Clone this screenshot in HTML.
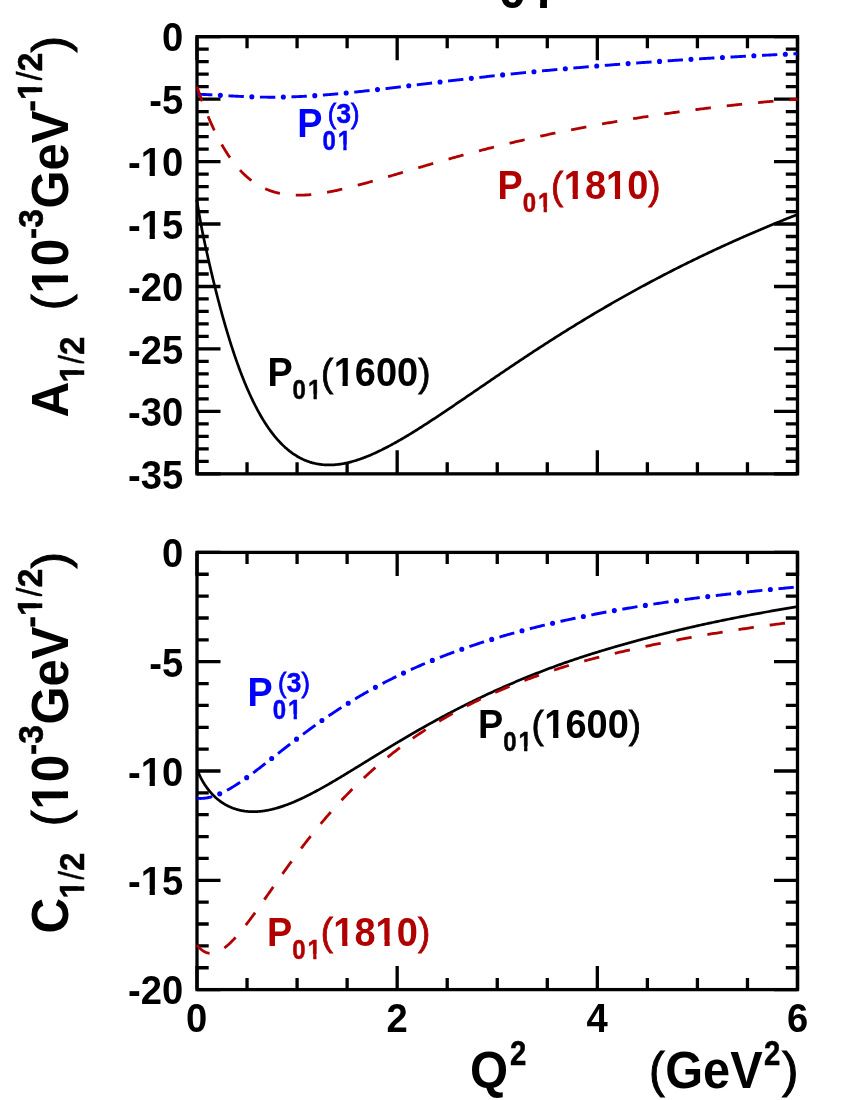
<!DOCTYPE html>
<html><head><meta charset="utf-8"><style>
html,body{margin:0;padding:0;background:#fff;}
svg{display:block;will-change:transform;font-family:"Liberation Sans",sans-serif;font-weight:bold;font-kerning:none;}
</style></head><body>
<svg width="850" height="1100" viewBox="0 0 850 1100">
<rect width="850" height="1100" fill="#fff"/>
<g transform="translate(498.60,8.30)" fill="#000" stroke="#000" font-size="50"><text x="0.00" stroke-width="0" letter-spacing="2.0">01</text><rect x="31.46" y="-7.10" width="10.02" height="9.40" fill="#fff" stroke="none"/><rect x="48.34" y="-7.10" width="9.39" height="9.40" fill="#fff" stroke="none"/></g>
<rect x="197.0" y="36.65" width="600.5" height="437.20000000000005" fill="none" stroke="#000" stroke-width="3.3"/>
<path d="M197.00,36.65 v23.5 M197.00,473.85 v-23.5 M247.04,36.65 v11.7 M247.04,473.85 v-11.7 M297.08,36.65 v11.7 M297.08,473.85 v-11.7 M347.12,36.65 v11.7 M347.12,473.85 v-11.7 M397.17,36.65 v23.5 M397.17,473.85 v-23.5 M447.21,36.65 v11.7 M447.21,473.85 v-11.7 M497.25,36.65 v11.7 M497.25,473.85 v-11.7 M547.29,36.65 v11.7 M547.29,473.85 v-11.7 M597.33,36.65 v23.5 M597.33,473.85 v-23.5 M647.38,36.65 v11.7 M647.38,473.85 v-11.7 M697.42,36.65 v11.7 M697.42,473.85 v-11.7 M747.46,36.65 v11.7 M747.46,473.85 v-11.7 M797.50,36.65 v23.5 M797.50,473.85 v-23.5 M197.0,36.65 h23.5 M797.5,36.65 h-23.5 M197.0,49.14 h11.7 M797.5,49.14 h-11.7 M197.0,61.63 h11.7 M797.5,61.63 h-11.7 M197.0,74.12 h11.7 M797.5,74.12 h-11.7 M197.0,86.62 h11.7 M797.5,86.62 h-11.7 M197.0,99.11 h23.5 M797.5,99.11 h-23.5 M197.0,111.60 h11.7 M797.5,111.60 h-11.7 M197.0,124.09 h11.7 M797.5,124.09 h-11.7 M197.0,136.58 h11.7 M797.5,136.58 h-11.7 M197.0,149.07 h11.7 M797.5,149.07 h-11.7 M197.0,161.56 h23.5 M797.5,161.56 h-23.5 M197.0,174.06 h11.7 M797.5,174.06 h-11.7 M197.0,186.55 h11.7 M797.5,186.55 h-11.7 M197.0,199.04 h11.7 M797.5,199.04 h-11.7 M197.0,211.53 h11.7 M797.5,211.53 h-11.7 M197.0,224.02 h23.5 M797.5,224.02 h-23.5 M197.0,236.51 h11.7 M797.5,236.51 h-11.7 M197.0,249.00 h11.7 M797.5,249.00 h-11.7 M197.0,261.50 h11.7 M797.5,261.50 h-11.7 M197.0,273.99 h11.7 M797.5,273.99 h-11.7 M197.0,286.48 h23.5 M797.5,286.48 h-23.5 M197.0,298.97 h11.7 M797.5,298.97 h-11.7 M197.0,311.46 h11.7 M797.5,311.46 h-11.7 M197.0,323.95 h11.7 M797.5,323.95 h-11.7 M197.0,336.44 h11.7 M797.5,336.44 h-11.7 M197.0,348.94 h23.5 M797.5,348.94 h-23.5 M197.0,361.43 h11.7 M797.5,361.43 h-11.7 M197.0,373.92 h11.7 M797.5,373.92 h-11.7 M197.0,386.41 h11.7 M797.5,386.41 h-11.7 M197.0,398.90 h11.7 M797.5,398.90 h-11.7 M197.0,411.39 h23.5 M797.5,411.39 h-23.5 M197.0,423.88 h11.7 M797.5,423.88 h-11.7 M197.0,436.38 h11.7 M797.5,436.38 h-11.7 M197.0,448.87 h11.7 M797.5,448.87 h-11.7 M197.0,461.36 h11.7 M797.5,461.36 h-11.7 M197.0,473.85 h23.5 M797.5,473.85 h-23.5" stroke="#000" stroke-width="3.3" fill="none"/>
<g transform="translate(183.20,51.45) scale(0.932,1)" fill="#000" stroke="#000" font-size="41"><text x="-22.80" stroke-width="0">0</text></g>
<g transform="translate(183.20,113.91) scale(0.932,1)" fill="#000" stroke="#000" font-size="41"><text x="-36.46" stroke-width="0">-5</text></g>
<g transform="translate(183.20,176.36) scale(0.932,1)" fill="#000" stroke="#000" font-size="41"><text x="-59.26" stroke-width="0">-10</text><rect x="-44.52" y="-6.18" width="8.49" height="8.48" fill="#fff" stroke="none"/><rect x="-30.41" y="-6.18" width="7.97" height="8.48" fill="#fff" stroke="none"/></g>
<g transform="translate(183.20,238.82) scale(0.932,1)" fill="#000" stroke="#000" font-size="41"><text x="-59.26" stroke-width="0">-15</text><rect x="-44.52" y="-6.18" width="8.49" height="8.48" fill="#fff" stroke="none"/><rect x="-30.41" y="-6.18" width="7.97" height="8.48" fill="#fff" stroke="none"/></g>
<g transform="translate(183.20,301.28) scale(0.932,1)" fill="#000" stroke="#000" font-size="41"><text x="-59.26" stroke-width="0">-20</text></g>
<g transform="translate(183.20,363.74) scale(0.932,1)" fill="#000" stroke="#000" font-size="41"><text x="-59.26" stroke-width="0">-25</text></g>
<g transform="translate(183.20,426.19) scale(0.932,1)" fill="#000" stroke="#000" font-size="41"><text x="-59.26" stroke-width="0">-30</text></g>
<g transform="translate(183.20,488.65) scale(0.932,1)" fill="#000" stroke="#000" font-size="41"><text x="-59.26" stroke-width="0">-35</text></g>
<rect x="197.0" y="552.4" width="600.5" height="437.20000000000005" fill="none" stroke="#000" stroke-width="3.3"/>
<path d="M197.00,552.4 v23.5 M197.00,989.6 v-23.5 M247.04,552.4 v11.7 M247.04,989.6 v-11.7 M297.08,552.4 v11.7 M297.08,989.6 v-11.7 M347.12,552.4 v11.7 M347.12,989.6 v-11.7 M397.17,552.4 v23.5 M397.17,989.6 v-23.5 M447.21,552.4 v11.7 M447.21,989.6 v-11.7 M497.25,552.4 v11.7 M497.25,989.6 v-11.7 M547.29,552.4 v11.7 M547.29,989.6 v-11.7 M597.33,552.4 v23.5 M597.33,989.6 v-23.5 M647.38,552.4 v11.7 M647.38,989.6 v-11.7 M697.42,552.4 v11.7 M697.42,989.6 v-11.7 M747.46,552.4 v11.7 M747.46,989.6 v-11.7 M797.50,552.4 v23.5 M797.50,989.6 v-23.5 M197.0,552.40 h23.5 M797.5,552.40 h-23.5 M197.0,574.26 h11.7 M797.5,574.26 h-11.7 M197.0,596.12 h11.7 M797.5,596.12 h-11.7 M197.0,617.98 h11.7 M797.5,617.98 h-11.7 M197.0,639.84 h11.7 M797.5,639.84 h-11.7 M197.0,661.70 h23.5 M797.5,661.70 h-23.5 M197.0,683.56 h11.7 M797.5,683.56 h-11.7 M197.0,705.42 h11.7 M797.5,705.42 h-11.7 M197.0,727.28 h11.7 M797.5,727.28 h-11.7 M197.0,749.14 h11.7 M797.5,749.14 h-11.7 M197.0,771.00 h23.5 M797.5,771.00 h-23.5 M197.0,792.86 h11.7 M797.5,792.86 h-11.7 M197.0,814.72 h11.7 M797.5,814.72 h-11.7 M197.0,836.58 h11.7 M797.5,836.58 h-11.7 M197.0,858.44 h11.7 M797.5,858.44 h-11.7 M197.0,880.30 h23.5 M797.5,880.30 h-23.5 M197.0,902.16 h11.7 M797.5,902.16 h-11.7 M197.0,924.02 h11.7 M797.5,924.02 h-11.7 M197.0,945.88 h11.7 M797.5,945.88 h-11.7 M197.0,967.74 h11.7 M797.5,967.74 h-11.7 M197.0,989.60 h23.5 M797.5,989.60 h-23.5" stroke="#000" stroke-width="3.3" fill="none"/>
<g transform="translate(183.20,567.20) scale(0.932,1)" fill="#000" stroke="#000" font-size="41"><text x="-22.80" stroke-width="0">0</text></g>
<g transform="translate(183.20,676.50) scale(0.932,1)" fill="#000" stroke="#000" font-size="41"><text x="-36.46" stroke-width="0">-5</text></g>
<g transform="translate(183.20,785.80) scale(0.932,1)" fill="#000" stroke="#000" font-size="41"><text x="-59.26" stroke-width="0">-10</text><rect x="-44.52" y="-6.18" width="8.49" height="8.48" fill="#fff" stroke="none"/><rect x="-30.41" y="-6.18" width="7.97" height="8.48" fill="#fff" stroke="none"/></g>
<g transform="translate(183.20,895.10) scale(0.932,1)" fill="#000" stroke="#000" font-size="41"><text x="-59.26" stroke-width="0">-15</text><rect x="-44.52" y="-6.18" width="8.49" height="8.48" fill="#fff" stroke="none"/><rect x="-30.41" y="-6.18" width="7.97" height="8.48" fill="#fff" stroke="none"/></g>
<g transform="translate(183.20,1004.40) scale(0.932,1)" fill="#000" stroke="#000" font-size="41"><text x="-59.26" stroke-width="0">-20</text></g>
<g transform="translate(196.70,1031.80) scale(0.932,1)" fill="#000" stroke="#000" font-size="41"><text x="-11.40" stroke-width="0">0</text></g><g transform="translate(397.00,1031.80) scale(0.932,1)" fill="#000" stroke="#000" font-size="41"><text x="-11.40" stroke-width="0">2</text></g><g transform="translate(597.00,1031.80) scale(0.932,1)" fill="#000" stroke="#000" font-size="41"><text x="-11.40" stroke-width="0">4</text></g><g transform="translate(797.60,1031.80) scale(0.932,1)" fill="#000" stroke="#000" font-size="41"><text x="-11.40" stroke-width="0">6</text></g>
<path d="M196.70,199.45 L196.74,199.66 L196.80,200.04 L196.88,200.54 L196.98,201.13 L197.10,201.79 L197.22,202.52 L197.35,203.32 L197.50,204.17 L197.65,205.08 L197.81,206.03 L197.98,207.04 L198.16,208.08 L198.34,209.17 L198.53,210.30 L198.73,211.47 L198.94,212.68 L199.15,213.91 L199.37,215.19 L199.59,216.49 L199.83,217.83 L200.07,219.19 L200.31,220.58 L200.57,222.00 L200.83,223.45 L201.10,224.92 L201.37,226.42 L201.66,227.94 L201.95,229.48 L202.26,231.05 L202.57,232.63 L202.89,234.24 L203.22,235.86 L203.57,237.50 L203.92,239.16 L204.28,240.84 L204.65,242.54 L205.02,244.25 L205.40,245.97 L205.78,247.71 L206.16,249.47 L206.55,251.24 L206.95,253.02 L207.35,254.81 L207.76,256.61 L208.16,258.43 L208.58,260.25 L209.00,262.09 L209.42,263.93 L209.85,265.79 L210.28,267.65 L210.72,269.52 L211.16,271.40 L211.60,273.28 L212.05,275.17 L212.51,277.07 L212.97,278.97 L213.43,280.87 L213.89,282.78 L214.36,284.70 L214.84,286.62 L215.31,288.54 L215.80,290.46 L216.28,292.39 L216.77,294.31 L217.27,296.24 L217.76,298.17 L218.26,300.10 L218.77,302.03 L219.28,303.96 L219.79,305.89 L220.31,307.82 L220.82,309.74 L221.35,311.66 L221.87,313.59 L222.41,315.51 L222.94,317.42 L223.48,319.33 L224.02,321.24 L224.56,323.15 L225.11,325.05 L225.66,326.94 L226.22,328.83 L226.77,330.72 L227.33,332.59 L227.90,334.47 L228.47,336.33 L229.04,338.19 L229.61,340.04 L230.19,341.89 L230.77,343.73 L231.36,345.55 L231.95,347.37 L232.54,349.19 L233.13,350.99 L233.73,352.79 L234.33,354.57 L234.93,356.35 L235.54,358.11 L236.15,359.87 L236.76,361.61 L237.38,363.35 L238.00,365.07 L238.62,366.78 L239.24,368.48 L239.87,370.17 L240.50,371.85 L241.14,373.52 L241.78,375.17 L242.42,376.82 L243.06,378.45 L243.71,380.07 L244.36,381.67 L245.01,383.26 L245.67,384.84 L246.33,386.41 L246.99,387.96 L247.66,389.50 L248.33,391.03 L249.00,392.54 L249.67,394.04 L250.35,395.52 L251.03,396.99 L251.71,398.44 L252.40,399.88 L253.09,401.31 L253.78,402.72 L254.48,404.11 L255.18,405.49 L255.88,406.86 L256.58,408.21 L257.29,409.54 L258.00,410.86 L258.71,412.16 L259.42,413.45 L260.14,414.72 L260.86,415.98 L261.58,417.22 L262.31,418.44 L263.03,419.65 L263.77,420.84 L264.50,422.01 L265.24,423.17 L265.98,424.32 L266.72,425.45 L267.47,426.56 L268.22,427.65 L268.97,428.73 L269.73,429.80 L270.49,430.84 L271.25,431.87 L272.01,432.89 L272.78,433.89 L273.55,434.87 L274.32,435.83 L275.10,436.78 L275.88,437.71 L276.66,438.63 L277.45,439.53 L278.23,440.41 L279.02,441.28 L279.81,442.13 L280.61,442.97 L281.41,443.78 L282.21,444.58 L283.01,445.37 L283.82,446.14 L284.62,446.89 L285.43,447.63 L286.25,448.35 L287.06,449.05 L287.88,449.74 L288.70,450.41 L289.52,451.07 L290.35,451.70 L291.18,452.33 L292.01,452.93 L292.84,453.53 L293.67,454.10 L294.51,454.66 L295.35,455.20 L296.19,455.73 L297.03,456.24 L297.87,456.74 L298.72,457.22 L299.57,457.68 L300.42,458.13 L301.28,458.57 L302.14,458.98 L303.00,459.39 L303.86,459.78 L304.73,460.15 L305.60,460.51 L306.47,460.85 L307.34,461.18 L308.22,461.50 L309.10,461.80 L309.98,462.09 L310.87,462.36 L311.75,462.62 L312.64,462.86 L313.53,463.09 L314.42,463.31 L315.31,463.51 L316.21,463.70 L317.11,463.87 L318.00,464.03 L318.90,464.18 L319.80,464.32 L320.70,464.44 L321.61,464.55 L322.51,464.65 L323.41,464.73 L324.32,464.80 L325.22,464.86 L326.13,464.90 L327.03,464.94 L327.94,464.96 L328.84,464.97 L329.75,464.97 L330.66,464.95 L331.57,464.92 L332.49,464.89 L333.40,464.84 L334.32,464.78 L335.24,464.70 L336.17,464.62 L337.09,464.52 L338.02,464.42 L338.95,464.30 L339.88,464.17 L340.81,464.04 L341.75,463.89 L342.68,463.73 L343.62,463.56 L344.56,463.38 L345.50,463.19 L346.45,462.98 L347.40,462.77 L348.35,462.55 L349.30,462.32 L350.25,462.08 L351.20,461.83 L352.16,461.57 L353.12,461.30 L354.08,461.02 L355.04,460.74 L356.01,460.44 L356.97,460.13 L357.94,459.82 L358.91,459.49 L359.89,459.16 L360.86,458.82 L361.84,458.47 L362.81,458.11 L363.80,457.75 L364.78,457.37 L365.76,456.99 L366.75,456.60 L367.73,456.20 L368.72,455.79 L369.72,455.38 L370.71,454.95 L371.71,454.52 L372.70,454.09 L373.70,453.64 L374.70,453.19 L375.71,452.73 L376.71,452.27 L377.72,451.79 L378.73,451.32 L379.74,450.83 L380.75,450.34 L381.76,449.84 L382.78,449.33 L383.80,448.82 L384.82,448.30 L385.84,447.78 L386.86,447.25 L387.89,446.71 L388.92,446.17 L389.94,445.62 L390.98,445.07 L392.01,444.51 L393.04,443.94 L394.08,443.37 L395.12,442.80 L396.16,442.21 L397.20,441.63 L398.24,441.03 L399.29,440.44 L400.34,439.83 L401.38,439.23 L402.43,438.61 L403.49,438.00 L404.54,437.37 L405.60,436.75 L406.66,436.12 L407.72,435.48 L408.78,434.84 L409.84,434.19 L410.91,433.54 L411.97,432.89 L413.04,432.23 L414.11,431.57 L415.18,430.90 L416.26,430.23 L417.33,429.55 L418.41,428.87 L419.49,428.19 L420.57,427.50 L421.65,426.81 L422.74,426.12 L423.82,425.42 L424.91,424.72 L426.00,424.01 L427.09,423.31 L428.19,422.60 L429.28,421.88 L430.38,421.17 L431.48,420.45 L432.58,419.72 L433.68,419.00 L434.78,418.27 L435.89,417.54 L436.99,416.81 L438.10,416.07 L439.21,415.33 L440.32,414.59 L441.44,413.85 L442.55,413.10 L443.67,412.35 L444.79,411.60 L445.91,410.85 L447.03,410.09 L448.15,409.34 L449.28,408.58 L450.41,407.82 L451.54,407.05 L452.67,406.29 L453.80,405.52 L454.93,404.75 L456.07,403.98 L457.20,403.21 L458.34,402.44 L459.48,401.66 L460.63,400.88 L461.77,400.11 L462.91,399.33 L464.06,398.54 L465.21,397.76 L466.36,396.98 L467.51,396.19 L468.67,395.40 L469.82,394.62 L470.98,393.83 L472.14,393.04 L473.30,392.24 L474.46,391.45 L475.62,390.66 L476.79,389.86 L477.95,389.06 L479.12,388.26 L480.29,387.46 L481.46,386.66 L482.64,385.86 L483.81,385.06 L484.99,384.26 L486.16,383.45 L487.34,382.65 L488.52,381.84 L489.71,381.03 L490.89,380.22 L492.08,379.42 L493.26,378.61 L494.45,377.80 L495.64,376.99 L496.84,376.17 L498.03,375.36 L499.23,374.55 L500.42,373.74 L501.62,372.92 L502.82,372.11 L504.02,371.30 L505.23,370.48 L506.43,369.67 L507.64,368.85 L508.85,368.04 L510.05,367.22 L511.27,366.41 L512.48,365.59 L513.69,364.78 L514.91,363.96 L516.13,363.15 L517.34,362.33 L518.56,361.52 L519.79,360.70 L521.01,359.89 L522.24,359.07 L523.46,358.26 L524.69,357.44 L525.92,356.63 L527.15,355.81 L528.38,355.00 L529.62,354.18 L530.85,353.37 L532.09,352.56 L533.33,351.74 L534.57,350.93 L535.81,350.12 L537.05,349.31 L538.30,348.50 L539.55,347.69 L540.79,346.88 L542.04,346.07 L543.29,345.26 L544.55,344.45 L545.80,343.64 L547.06,342.84 L548.31,342.03 L549.57,341.22 L550.83,340.42 L552.09,339.61 L553.36,338.81 L554.62,338.00 L555.89,337.20 L557.15,336.40 L558.42,335.60 L559.69,334.80 L560.96,334.00 L562.24,333.20 L563.51,332.40 L564.79,331.60 L566.07,330.80 L567.35,330.00 L568.63,329.21 L569.91,328.41 L571.19,327.62 L572.48,326.82 L573.76,326.03 L575.05,325.24 L576.34,324.45 L577.63,323.66 L578.93,322.87 L580.22,322.08 L581.51,321.29 L582.81,320.50 L584.11,319.72 L585.41,318.93 L586.71,318.15 L588.01,317.37 L589.32,316.58 L590.62,315.80 L591.93,315.02 L593.24,314.24 L594.55,313.46 L595.86,312.69 L597.17,311.91 L598.49,311.14 L599.80,310.36 L601.12,309.59 L602.44,308.82 L603.76,308.04 L605.08,307.27 L606.40,306.51 L607.73,305.74 L609.05,304.97 L610.38,304.21 L611.71,303.44 L613.04,302.68 L614.37,301.92 L615.70,301.15 L617.04,300.39 L618.37,299.64 L619.71,298.88 L621.05,298.12 L622.39,297.37 L623.73,296.61 L625.07,295.86 L626.41,295.11 L627.76,294.36 L629.11,293.61 L630.45,292.86 L631.80,292.11 L633.15,291.37 L634.51,290.62 L635.86,289.88 L637.22,289.14 L638.57,288.40 L639.93,287.66 L641.29,286.92 L642.65,286.18 L644.01,285.44 L645.38,284.71 L646.74,283.98 L648.11,283.24 L649.48,282.51 L650.84,281.78 L652.22,281.05 L653.59,280.32 L654.96,279.60 L656.33,278.87 L657.71,278.15 L659.09,277.43 L660.47,276.71 L661.85,275.99 L663.23,275.27 L664.61,274.55 L666.00,273.83 L667.38,273.12 L668.77,272.41 L670.16,271.69 L671.55,270.98 L672.94,270.27 L674.33,269.57 L675.72,268.86 L677.12,268.16 L678.51,267.45 L679.91,266.75 L681.31,266.05 L682.71,265.35 L684.11,264.65 L685.52,263.95 L686.92,263.26 L688.33,262.57 L689.73,261.87 L691.14,261.18 L692.55,260.49 L693.96,259.80 L695.38,259.12 L696.79,258.43 L698.20,257.75 L699.62,257.07 L701.04,256.39 L702.46,255.71 L703.88,255.03 L705.30,254.35 L706.72,253.68 L708.15,253.00 L709.57,252.33 L711.00,251.66 L712.43,250.99 L713.86,250.32 L715.29,249.65 L716.72,248.99 L718.16,248.32 L719.59,247.66 L721.03,247.00 L722.46,246.34 L723.90,245.68 L725.34,245.02 L726.79,244.36 L728.23,243.71 L729.67,243.05 L731.12,242.40 L732.57,241.75 L734.01,241.10 L735.46,240.45 L736.91,239.80 L738.37,239.16 L739.82,238.51 L741.27,237.87 L742.73,237.23 L744.19,236.59 L745.65,235.95 L747.10,235.31 L748.57,234.68 L750.03,234.04 L751.49,233.41 L752.96,232.78 L754.42,232.15 L755.89,231.52 L757.36,230.89 L758.83,230.26 L760.30,229.64 L761.77,229.01 L763.25,228.39 L764.72,227.77 L766.20,227.15 L767.68,226.53 L769.16,225.92 L770.64,225.30 L772.12,224.69 L773.60,224.07 L775.09,223.46 L776.57,222.85 L778.06,222.24 L779.55,221.63 L781.03,221.03 L782.53,220.42 L784.02,219.82 L785.51,219.22 L787.00,218.62 L788.50,218.02 L790.00,217.42 L791.50,216.82 L792.99,216.23 L794.49,215.64 L796.00,215.04 L797.50,214.45" fill="none" stroke="#000" stroke-width="2.7"/>
<path d="M197.00,94.20 L197.04,94.20 L197.12,94.20 L197.21,94.20 L197.33,94.21 L197.46,94.21 L197.60,94.22 L197.76,94.22 L197.93,94.23 L198.11,94.23 L198.30,94.24 L198.49,94.25 L198.70,94.25 L198.92,94.26 L199.15,94.27 L199.38,94.28 L199.62,94.29 L199.87,94.30 L200.13,94.31 L200.39,94.32 L200.66,94.33 L200.94,94.34 L201.23,94.35 L201.52,94.36 L201.82,94.37 L202.12,94.39 L202.43,94.40 L202.75,94.41 L203.07,94.43 L203.40,94.44 L203.73,94.46 L204.07,94.47 L204.41,94.49 L204.77,94.50 L205.12,94.52 L205.48,94.54 L205.85,94.55 L206.22,94.57 L206.60,94.59 L206.98,94.61 L207.36,94.63 L207.75,94.65 L208.15,94.67 L208.55,94.69 L208.96,94.71 L209.36,94.73 L209.78,94.75 L210.20,94.77 L210.62,94.79 L211.05,94.82 L211.48,94.84 L211.92,94.86 L212.36,94.89 L212.80,94.91 L213.25,94.94 L213.71,94.96 L214.17,94.99 L214.63,95.01 L215.09,95.04 L215.56,95.06 L216.04,95.09 L216.51,95.12 L217.00,95.15 L217.48,95.17 L217.97,95.20 L218.47,95.23 L218.96,95.26 L219.46,95.29 L219.97,95.32 L220.48,95.34 L220.99,95.37 L221.51,95.40 L222.02,95.43 L222.55,95.46 L223.07,95.49 L223.61,95.52 L224.14,95.55 L224.68,95.59 L225.22,95.62 L225.76,95.65 L226.31,95.68 L226.86,95.71 L227.42,95.74 L227.97,95.77 L228.53,95.80 L229.10,95.84 L229.67,95.87 L230.24,95.90 L230.81,95.93 L231.39,95.96 L231.97,95.99 L232.56,96.02 L233.15,96.05 L233.74,96.09 L234.33,96.12 L234.93,96.15 L235.53,96.18 L236.13,96.21 L236.74,96.24 L237.35,96.27 L237.96,96.30 L238.58,96.33 L239.20,96.36 L239.82,96.39 L240.44,96.42 L241.07,96.45 L241.70,96.48 L242.34,96.50 L242.97,96.53 L243.61,96.56 L244.26,96.59 L244.90,96.61 L245.55,96.64 L246.20,96.67 L246.86,96.69 L247.51,96.72 L248.18,96.74 L248.84,96.77 L249.50,96.79 L250.17,96.81 L250.84,96.83 L251.52,96.86 L252.20,96.88 L252.88,96.90 L253.56,96.92 L254.25,96.94 L254.93,96.96 L255.62,96.98 L256.32,96.99 L257.01,97.01 L257.71,97.03 L258.42,97.04 L259.12,97.06 L259.83,97.07 L260.54,97.09 L261.25,97.10 L261.97,97.11 L262.68,97.12 L263.40,97.13 L264.13,97.14 L264.85,97.15 L265.58,97.16 L266.31,97.16 L267.04,97.17 L267.78,97.18 L268.52,97.18 L269.26,97.18 L270.00,97.19 L270.75,97.19 L271.50,97.19 L272.25,97.19 L273.00,97.19 L273.76,97.18 L274.52,97.18 L275.28,97.18 L276.04,97.17 L276.81,97.16 L277.58,97.16 L278.35,97.15 L279.12,97.14 L279.90,97.13 L280.68,97.12 L281.46,97.10 L282.24,97.09 L283.03,97.08 L283.82,97.06 L284.61,97.04 L285.40,97.03 L286.19,97.01 L286.99,96.99 L287.79,96.96 L288.59,96.94 L289.40,96.92 L290.21,96.89 L291.01,96.87 L291.83,96.84 L292.64,96.81 L293.46,96.78 L294.28,96.75 L295.10,96.72 L295.92,96.69 L296.74,96.65 L297.57,96.62 L298.40,96.58 L299.23,96.55 L300.07,96.51 L300.91,96.47 L301.75,96.43 L302.59,96.38 L303.43,96.34 L304.28,96.30 L305.12,96.25 L305.97,96.21 L306.83,96.16 L307.68,96.11 L308.54,96.06 L309.40,96.01 L310.26,95.95 L311.12,95.90 L311.99,95.85 L312.86,95.79 L313.73,95.73 L314.60,95.67 L315.47,95.62 L316.35,95.55 L317.23,95.49 L318.11,95.43 L318.99,95.37 L319.88,95.30 L320.76,95.24 L321.65,95.17 L322.54,95.10 L323.44,95.03 L324.33,94.96 L325.23,94.89 L326.13,94.82 L327.03,94.74 L327.94,94.67 L328.84,94.59 L329.75,94.52 L330.66,94.44 L331.57,94.36 L332.49,94.28 L333.40,94.20 L334.32,94.12 L335.24,94.03 L336.17,93.95 L337.09,93.87 L338.02,93.78 L338.95,93.69 L339.88,93.61 L340.81,93.52 L341.75,93.43 L342.68,93.34 L343.62,93.25 L344.56,93.15 L345.50,93.06 L346.45,92.97 L347.40,92.87 L348.35,92.78 L349.30,92.68 L350.25,92.58 L351.20,92.48 L352.16,92.38 L353.12,92.28 L354.08,92.18 L355.04,92.08 L356.01,91.98 L356.97,91.88 L357.94,91.77 L358.91,91.67 L359.89,91.56 L360.86,91.46 L361.84,91.35 L362.81,91.24 L363.80,91.13 L364.78,91.02 L365.76,90.91 L366.75,90.80 L367.73,90.69 L368.72,90.58 L369.72,90.47 L370.71,90.35 L371.71,90.24 L372.70,90.13 L373.70,90.01 L374.70,89.90 L375.71,89.78 L376.71,89.66 L377.72,89.55 L378.73,89.43 L379.74,89.31 L380.75,89.19 L381.76,89.07 L382.78,88.95 L383.80,88.83 L384.82,88.71 L385.84,88.59 L386.86,88.47 L387.89,88.35 L388.92,88.22 L389.94,88.10 L390.98,87.98 L392.01,87.85 L393.04,87.73 L394.08,87.60 L395.12,87.48 L396.16,87.35 L397.20,87.23 L398.24,87.10 L399.29,86.97 L400.34,86.85 L401.38,86.72 L402.43,86.59 L403.49,86.46 L404.54,86.34 L405.60,86.21 L406.66,86.08 L407.72,85.95 L408.78,85.82 L409.84,85.69 L410.91,85.56 L411.97,85.43 L413.04,85.30 L414.11,85.17 L415.18,85.04 L416.26,84.91 L417.33,84.78 L418.41,84.65 L419.49,84.51 L420.57,84.38 L421.65,84.25 L422.74,84.12 L423.82,83.99 L424.91,83.85 L426.00,83.72 L427.09,83.59 L428.19,83.46 L429.28,83.32 L430.38,83.19 L431.48,83.06 L432.58,82.92 L433.68,82.79 L434.78,82.66 L435.89,82.53 L436.99,82.39 L438.10,82.26 L439.21,82.12 L440.32,81.99 L441.44,81.86 L442.55,81.72 L443.67,81.59 L444.79,81.46 L445.91,81.32 L447.03,81.19 L448.15,81.06 L449.28,80.92 L450.41,80.79 L451.54,80.66 L452.67,80.52 L453.80,80.39 L454.93,80.26 L456.07,80.12 L457.20,79.99 L458.34,79.86 L459.48,79.72 L460.63,79.59 L461.77,79.46 L462.91,79.32 L464.06,79.19 L465.21,79.06 L466.36,78.92 L467.51,78.79 L468.67,78.66 L469.82,78.53 L470.98,78.40 L472.14,78.26 L473.30,78.13 L474.46,78.00 L475.62,77.87 L476.79,77.74 L477.95,77.60 L479.12,77.47 L480.29,77.34 L481.46,77.21 L482.64,77.08 L483.81,76.95 L484.99,76.82 L486.16,76.69 L487.34,76.56 L488.52,76.43 L489.71,76.30 L490.89,76.17 L492.08,76.04 L493.26,75.91 L494.45,75.78 L495.64,75.65 L496.84,75.52 L498.03,75.39 L499.23,75.26 L500.42,75.14 L501.62,75.01 L502.82,74.88 L504.02,74.75 L505.23,74.63 L506.43,74.50 L507.64,74.37 L508.85,74.25 L510.05,74.12 L511.27,73.99 L512.48,73.87 L513.69,73.74 L514.91,73.62 L516.13,73.49 L517.34,73.36 L518.56,73.24 L519.79,73.12 L521.01,72.99 L522.24,72.87 L523.46,72.74 L524.69,72.62 L525.92,72.50 L527.15,72.37 L528.38,72.25 L529.62,72.13 L530.85,72.01 L532.09,71.88 L533.33,71.76 L534.57,71.64 L535.81,71.52 L537.05,71.40 L538.30,71.28 L539.55,71.16 L540.79,71.04 L542.04,70.92 L543.29,70.80 L544.55,70.68 L545.80,70.56 L547.06,70.44 L548.31,70.32 L549.57,70.20 L550.83,70.09 L552.09,69.97 L553.36,69.85 L554.62,69.73 L555.89,69.62 L557.15,69.50 L558.42,69.38 L559.69,69.27 L560.96,69.15 L562.24,69.04 L563.51,68.92 L564.79,68.81 L566.07,68.69 L567.35,68.58 L568.63,68.47 L569.91,68.35 L571.19,68.24 L572.48,68.13 L573.76,68.01 L575.05,67.90 L576.34,67.79 L577.63,67.68 L578.93,67.57 L580.22,67.45 L581.51,67.34 L582.81,67.23 L584.11,67.12 L585.41,67.01 L586.71,66.90 L588.01,66.79 L589.32,66.68 L590.62,66.58 L591.93,66.47 L593.24,66.36 L594.55,66.25 L595.86,66.14 L597.17,66.04 L598.49,65.93 L599.80,65.82 L601.12,65.72 L602.44,65.61 L603.76,65.50 L605.08,65.40 L606.40,65.29 L607.73,65.19 L609.05,65.08 L610.38,64.98 L611.71,64.88 L613.04,64.77 L614.37,64.67 L615.70,64.57 L617.04,64.46 L618.37,64.36 L619.71,64.26 L621.05,64.16 L622.39,64.06 L623.73,63.95 L625.07,63.85 L626.41,63.75 L627.76,63.65 L629.11,63.55 L630.45,63.45 L631.80,63.35 L633.15,63.25 L634.51,63.15 L635.86,63.06 L637.22,62.96 L638.57,62.86 L639.93,62.76 L641.29,62.66 L642.65,62.57 L644.01,62.47 L645.38,62.37 L646.74,62.28 L648.11,62.18 L649.48,62.09 L650.84,61.99 L652.22,61.89 L653.59,61.80 L654.96,61.71 L656.33,61.61 L657.71,61.52 L659.09,61.42 L660.47,61.33 L661.85,61.24 L663.23,61.14 L664.61,61.05 L666.00,60.96 L667.38,60.87 L668.77,60.78 L670.16,60.68 L671.55,60.59 L672.94,60.50 L674.33,60.41 L675.72,60.32 L677.12,60.23 L678.51,60.14 L679.91,60.05 L681.31,59.96 L682.71,59.87 L684.11,59.79 L685.52,59.70 L686.92,59.61 L688.33,59.52 L689.73,59.43 L691.14,59.35 L692.55,59.26 L693.96,59.17 L695.38,59.09 L696.79,59.00 L698.20,58.91 L699.62,58.83 L701.04,58.74 L702.46,58.66 L703.88,58.57 L705.30,58.49 L706.72,58.41 L708.15,58.32 L709.57,58.24 L711.00,58.15 L712.43,58.07 L713.86,57.99 L715.29,57.91 L716.72,57.82 L718.16,57.74 L719.59,57.66 L721.03,57.58 L722.46,57.50 L723.90,57.41 L725.34,57.33 L726.79,57.25 L728.23,57.17 L729.67,57.09 L731.12,57.01 L732.57,56.93 L734.01,56.85 L735.46,56.77 L736.91,56.70 L738.37,56.62 L739.82,56.54 L741.27,56.46 L742.73,56.38 L744.19,56.30 L745.65,56.23 L747.10,56.15 L748.57,56.07 L750.03,56.00 L751.49,55.92 L752.96,55.84 L754.42,55.77 L755.89,55.69 L757.36,55.62 L758.83,55.54 L760.30,55.47 L761.77,55.39 L763.25,55.32 L764.72,55.24 L766.20,55.17 L767.68,55.10 L769.16,55.02 L770.64,54.95 L772.12,54.88 L773.60,54.80 L775.09,54.73 L776.57,54.66 L778.06,54.59 L779.55,54.51 L781.03,54.44 L782.53,54.37 L784.02,54.30 L785.51,54.23 L787.00,54.16 L788.50,54.09 L790.00,54.02 L791.50,53.95 L792.99,53.88 L794.49,53.81 L796.00,53.74 L797.50,53.67" fill="none" stroke="#0000ff" stroke-width="2.9" stroke-dasharray="15.4 16.1"/><path d="M197.00,94.20 L197.04,94.20 L197.12,94.20 L197.21,94.20 L197.33,94.21 L197.46,94.21 L197.60,94.22 L197.76,94.22 L197.93,94.23 L198.11,94.23 L198.30,94.24 L198.49,94.25 L198.70,94.25 L198.92,94.26 L199.15,94.27 L199.38,94.28 L199.62,94.29 L199.87,94.30 L200.13,94.31 L200.39,94.32 L200.66,94.33 L200.94,94.34 L201.23,94.35 L201.52,94.36 L201.82,94.37 L202.12,94.39 L202.43,94.40 L202.75,94.41 L203.07,94.43 L203.40,94.44 L203.73,94.46 L204.07,94.47 L204.41,94.49 L204.77,94.50 L205.12,94.52 L205.48,94.54 L205.85,94.55 L206.22,94.57 L206.60,94.59 L206.98,94.61 L207.36,94.63 L207.75,94.65 L208.15,94.67 L208.55,94.69 L208.96,94.71 L209.36,94.73 L209.78,94.75 L210.20,94.77 L210.62,94.79 L211.05,94.82 L211.48,94.84 L211.92,94.86 L212.36,94.89 L212.80,94.91 L213.25,94.94 L213.71,94.96 L214.17,94.99 L214.63,95.01 L215.09,95.04 L215.56,95.06 L216.04,95.09 L216.51,95.12 L217.00,95.15 L217.48,95.17 L217.97,95.20 L218.47,95.23 L218.96,95.26 L219.46,95.29 L219.97,95.32 L220.48,95.34 L220.99,95.37 L221.51,95.40 L222.02,95.43 L222.55,95.46 L223.07,95.49 L223.61,95.52 L224.14,95.55 L224.68,95.59 L225.22,95.62 L225.76,95.65 L226.31,95.68 L226.86,95.71 L227.42,95.74 L227.97,95.77 L228.53,95.80 L229.10,95.84 L229.67,95.87 L230.24,95.90 L230.81,95.93 L231.39,95.96 L231.97,95.99 L232.56,96.02 L233.15,96.05 L233.74,96.09 L234.33,96.12 L234.93,96.15 L235.53,96.18 L236.13,96.21 L236.74,96.24 L237.35,96.27 L237.96,96.30 L238.58,96.33 L239.20,96.36 L239.82,96.39 L240.44,96.42 L241.07,96.45 L241.70,96.48 L242.34,96.50 L242.97,96.53 L243.61,96.56 L244.26,96.59 L244.90,96.61 L245.55,96.64 L246.20,96.67 L246.86,96.69 L247.51,96.72 L248.18,96.74 L248.84,96.77 L249.50,96.79 L250.17,96.81 L250.84,96.83 L251.52,96.86 L252.20,96.88 L252.88,96.90 L253.56,96.92 L254.25,96.94 L254.93,96.96 L255.62,96.98 L256.32,96.99 L257.01,97.01 L257.71,97.03 L258.42,97.04 L259.12,97.06 L259.83,97.07 L260.54,97.09 L261.25,97.10 L261.97,97.11 L262.68,97.12 L263.40,97.13 L264.13,97.14 L264.85,97.15 L265.58,97.16 L266.31,97.16 L267.04,97.17 L267.78,97.18 L268.52,97.18 L269.26,97.18 L270.00,97.19 L270.75,97.19 L271.50,97.19 L272.25,97.19 L273.00,97.19 L273.76,97.18 L274.52,97.18 L275.28,97.18 L276.04,97.17 L276.81,97.16 L277.58,97.16 L278.35,97.15 L279.12,97.14 L279.90,97.13 L280.68,97.12 L281.46,97.10 L282.24,97.09 L283.03,97.08 L283.82,97.06 L284.61,97.04 L285.40,97.03 L286.19,97.01 L286.99,96.99 L287.79,96.96 L288.59,96.94 L289.40,96.92 L290.21,96.89 L291.01,96.87 L291.83,96.84 L292.64,96.81 L293.46,96.78 L294.28,96.75 L295.10,96.72 L295.92,96.69 L296.74,96.65 L297.57,96.62 L298.40,96.58 L299.23,96.55 L300.07,96.51 L300.91,96.47 L301.75,96.43 L302.59,96.38 L303.43,96.34 L304.28,96.30 L305.12,96.25 L305.97,96.21 L306.83,96.16 L307.68,96.11 L308.54,96.06 L309.40,96.01 L310.26,95.95 L311.12,95.90 L311.99,95.85 L312.86,95.79 L313.73,95.73 L314.60,95.67 L315.47,95.62 L316.35,95.55 L317.23,95.49 L318.11,95.43 L318.99,95.37 L319.88,95.30 L320.76,95.24 L321.65,95.17 L322.54,95.10 L323.44,95.03 L324.33,94.96 L325.23,94.89 L326.13,94.82 L327.03,94.74 L327.94,94.67 L328.84,94.59 L329.75,94.52 L330.66,94.44 L331.57,94.36 L332.49,94.28 L333.40,94.20 L334.32,94.12 L335.24,94.03 L336.17,93.95 L337.09,93.87 L338.02,93.78 L338.95,93.69 L339.88,93.61 L340.81,93.52 L341.75,93.43 L342.68,93.34 L343.62,93.25 L344.56,93.15 L345.50,93.06 L346.45,92.97 L347.40,92.87 L348.35,92.78 L349.30,92.68 L350.25,92.58 L351.20,92.48 L352.16,92.38 L353.12,92.28 L354.08,92.18 L355.04,92.08 L356.01,91.98 L356.97,91.88 L357.94,91.77 L358.91,91.67 L359.89,91.56 L360.86,91.46 L361.84,91.35 L362.81,91.24 L363.80,91.13 L364.78,91.02 L365.76,90.91 L366.75,90.80 L367.73,90.69 L368.72,90.58 L369.72,90.47 L370.71,90.35 L371.71,90.24 L372.70,90.13 L373.70,90.01 L374.70,89.90 L375.71,89.78 L376.71,89.66 L377.72,89.55 L378.73,89.43 L379.74,89.31 L380.75,89.19 L381.76,89.07 L382.78,88.95 L383.80,88.83 L384.82,88.71 L385.84,88.59 L386.86,88.47 L387.89,88.35 L388.92,88.22 L389.94,88.10 L390.98,87.98 L392.01,87.85 L393.04,87.73 L394.08,87.60 L395.12,87.48 L396.16,87.35 L397.20,87.23 L398.24,87.10 L399.29,86.97 L400.34,86.85 L401.38,86.72 L402.43,86.59 L403.49,86.46 L404.54,86.34 L405.60,86.21 L406.66,86.08 L407.72,85.95 L408.78,85.82 L409.84,85.69 L410.91,85.56 L411.97,85.43 L413.04,85.30 L414.11,85.17 L415.18,85.04 L416.26,84.91 L417.33,84.78 L418.41,84.65 L419.49,84.51 L420.57,84.38 L421.65,84.25 L422.74,84.12 L423.82,83.99 L424.91,83.85 L426.00,83.72 L427.09,83.59 L428.19,83.46 L429.28,83.32 L430.38,83.19 L431.48,83.06 L432.58,82.92 L433.68,82.79 L434.78,82.66 L435.89,82.53 L436.99,82.39 L438.10,82.26 L439.21,82.12 L440.32,81.99 L441.44,81.86 L442.55,81.72 L443.67,81.59 L444.79,81.46 L445.91,81.32 L447.03,81.19 L448.15,81.06 L449.28,80.92 L450.41,80.79 L451.54,80.66 L452.67,80.52 L453.80,80.39 L454.93,80.26 L456.07,80.12 L457.20,79.99 L458.34,79.86 L459.48,79.72 L460.63,79.59 L461.77,79.46 L462.91,79.32 L464.06,79.19 L465.21,79.06 L466.36,78.92 L467.51,78.79 L468.67,78.66 L469.82,78.53 L470.98,78.40 L472.14,78.26 L473.30,78.13 L474.46,78.00 L475.62,77.87 L476.79,77.74 L477.95,77.60 L479.12,77.47 L480.29,77.34 L481.46,77.21 L482.64,77.08 L483.81,76.95 L484.99,76.82 L486.16,76.69 L487.34,76.56 L488.52,76.43 L489.71,76.30 L490.89,76.17 L492.08,76.04 L493.26,75.91 L494.45,75.78 L495.64,75.65 L496.84,75.52 L498.03,75.39 L499.23,75.26 L500.42,75.14 L501.62,75.01 L502.82,74.88 L504.02,74.75 L505.23,74.63 L506.43,74.50 L507.64,74.37 L508.85,74.25 L510.05,74.12 L511.27,73.99 L512.48,73.87 L513.69,73.74 L514.91,73.62 L516.13,73.49 L517.34,73.36 L518.56,73.24 L519.79,73.12 L521.01,72.99 L522.24,72.87 L523.46,72.74 L524.69,72.62 L525.92,72.50 L527.15,72.37 L528.38,72.25 L529.62,72.13 L530.85,72.01 L532.09,71.88 L533.33,71.76 L534.57,71.64 L535.81,71.52 L537.05,71.40 L538.30,71.28 L539.55,71.16 L540.79,71.04 L542.04,70.92 L543.29,70.80 L544.55,70.68 L545.80,70.56 L547.06,70.44 L548.31,70.32 L549.57,70.20 L550.83,70.09 L552.09,69.97 L553.36,69.85 L554.62,69.73 L555.89,69.62 L557.15,69.50 L558.42,69.38 L559.69,69.27 L560.96,69.15 L562.24,69.04 L563.51,68.92 L564.79,68.81 L566.07,68.69 L567.35,68.58 L568.63,68.47 L569.91,68.35 L571.19,68.24 L572.48,68.13 L573.76,68.01 L575.05,67.90 L576.34,67.79 L577.63,67.68 L578.93,67.57 L580.22,67.45 L581.51,67.34 L582.81,67.23 L584.11,67.12 L585.41,67.01 L586.71,66.90 L588.01,66.79 L589.32,66.68 L590.62,66.58 L591.93,66.47 L593.24,66.36 L594.55,66.25 L595.86,66.14 L597.17,66.04 L598.49,65.93 L599.80,65.82 L601.12,65.72 L602.44,65.61 L603.76,65.50 L605.08,65.40 L606.40,65.29 L607.73,65.19 L609.05,65.08 L610.38,64.98 L611.71,64.88 L613.04,64.77 L614.37,64.67 L615.70,64.57 L617.04,64.46 L618.37,64.36 L619.71,64.26 L621.05,64.16 L622.39,64.06 L623.73,63.95 L625.07,63.85 L626.41,63.75 L627.76,63.65 L629.11,63.55 L630.45,63.45 L631.80,63.35 L633.15,63.25 L634.51,63.15 L635.86,63.06 L637.22,62.96 L638.57,62.86 L639.93,62.76 L641.29,62.66 L642.65,62.57 L644.01,62.47 L645.38,62.37 L646.74,62.28 L648.11,62.18 L649.48,62.09 L650.84,61.99 L652.22,61.89 L653.59,61.80 L654.96,61.71 L656.33,61.61 L657.71,61.52 L659.09,61.42 L660.47,61.33 L661.85,61.24 L663.23,61.14 L664.61,61.05 L666.00,60.96 L667.38,60.87 L668.77,60.78 L670.16,60.68 L671.55,60.59 L672.94,60.50 L674.33,60.41 L675.72,60.32 L677.12,60.23 L678.51,60.14 L679.91,60.05 L681.31,59.96 L682.71,59.87 L684.11,59.79 L685.52,59.70 L686.92,59.61 L688.33,59.52 L689.73,59.43 L691.14,59.35 L692.55,59.26 L693.96,59.17 L695.38,59.09 L696.79,59.00 L698.20,58.91 L699.62,58.83 L701.04,58.74 L702.46,58.66 L703.88,58.57 L705.30,58.49 L706.72,58.41 L708.15,58.32 L709.57,58.24 L711.00,58.15 L712.43,58.07 L713.86,57.99 L715.29,57.91 L716.72,57.82 L718.16,57.74 L719.59,57.66 L721.03,57.58 L722.46,57.50 L723.90,57.41 L725.34,57.33 L726.79,57.25 L728.23,57.17 L729.67,57.09 L731.12,57.01 L732.57,56.93 L734.01,56.85 L735.46,56.77 L736.91,56.70 L738.37,56.62 L739.82,56.54 L741.27,56.46 L742.73,56.38 L744.19,56.30 L745.65,56.23 L747.10,56.15 L748.57,56.07 L750.03,56.00 L751.49,55.92 L752.96,55.84 L754.42,55.77 L755.89,55.69 L757.36,55.62 L758.83,55.54 L760.30,55.47 L761.77,55.39 L763.25,55.32 L764.72,55.24 L766.20,55.17 L767.68,55.10 L769.16,55.02 L770.64,54.95 L772.12,54.88 L773.60,54.80 L775.09,54.73 L776.57,54.66 L778.06,54.59 L779.55,54.51 L781.03,54.44 L782.53,54.37 L784.02,54.30 L785.51,54.23 L787.00,54.16 L788.50,54.09 L790.00,54.02 L791.50,53.95 L792.99,53.88 L794.49,53.81 L796.00,53.74 L797.50,53.67" fill="none" stroke="#0000ff" stroke-width="5.1" stroke-linecap="round" stroke-dasharray="0 31.5" stroke-dashoffset="-23.4"/>
<path d="M197.00,86.67 L197.04,86.80 L197.12,87.02 L197.21,87.31 L197.33,87.65 L197.46,88.03 L197.60,88.45 L197.76,88.91 L197.93,89.41 L198.11,89.93 L198.30,90.48 L198.49,91.06 L198.70,91.66 L198.92,92.28 L199.15,92.93 L199.38,93.59 L199.62,94.28 L199.87,94.99 L200.13,95.71 L200.39,96.45 L200.66,97.20 L200.94,97.97 L201.23,98.76 L201.52,99.55 L201.82,100.36 L202.12,101.19 L202.43,102.02 L202.75,102.87 L203.07,103.72 L203.40,104.59 L203.73,105.46 L204.07,106.35 L204.41,107.24 L204.77,108.14 L205.12,109.05 L205.48,109.96 L205.85,110.88 L206.22,111.81 L206.60,112.74 L206.98,113.67 L207.36,114.61 L207.75,115.56 L208.15,116.51 L208.55,117.46 L208.96,118.42 L209.36,119.37 L209.78,120.33 L210.20,121.29 L210.62,122.26 L211.05,123.22 L211.48,124.19 L211.92,125.15 L212.36,126.12 L212.80,127.08 L213.25,128.05 L213.71,129.01 L214.17,129.98 L214.63,130.94 L215.09,131.90 L215.56,132.86 L216.04,133.82 L216.51,134.77 L217.00,135.72 L217.48,136.67 L217.97,137.62 L218.47,138.56 L218.96,139.49 L219.46,140.43 L219.97,141.36 L220.48,142.28 L220.99,143.20 L221.51,144.12 L222.02,145.03 L222.55,145.94 L223.07,146.84 L223.61,147.73 L224.14,148.62 L224.68,149.51 L225.22,150.38 L225.76,151.25 L226.31,152.12 L226.86,152.97 L227.42,153.83 L227.97,154.67 L228.53,155.51 L229.10,156.34 L229.67,157.16 L230.24,157.97 L230.81,158.78 L231.39,159.58 L231.97,160.37 L232.56,161.15 L233.15,161.93 L233.74,162.70 L234.33,163.45 L234.93,164.21 L235.53,164.95 L236.13,165.68 L236.74,166.41 L237.35,167.12 L237.96,167.83 L238.58,168.53 L239.20,169.22 L239.82,169.90 L240.44,170.57 L241.07,171.23 L241.70,171.89 L242.34,172.53 L242.97,173.16 L243.61,173.79 L244.26,174.41 L244.90,175.01 L245.55,175.61 L246.20,176.20 L246.86,176.78 L247.51,177.35 L248.18,177.91 L248.84,178.46 L249.50,179.00 L250.17,179.53 L250.84,180.05 L251.52,180.57 L252.20,181.07 L252.88,181.56 L253.56,182.05 L254.25,182.52 L254.93,182.99 L255.62,183.44 L256.32,183.89 L257.01,184.32 L257.71,184.75 L258.42,185.17 L259.12,185.58 L259.83,185.98 L260.54,186.37 L261.25,186.75 L261.97,187.12 L262.68,187.48 L263.40,187.84 L264.13,188.18 L264.85,188.52 L265.58,188.84 L266.31,189.16 L267.04,189.47 L267.78,189.77 L268.52,190.06 L269.26,190.34 L270.00,190.62 L270.75,190.88 L271.50,191.14 L272.25,191.39 L273.00,191.63 L273.76,191.86 L274.52,192.08 L275.28,192.29 L276.04,192.50 L276.81,192.70 L277.58,192.89 L278.35,193.07 L279.12,193.24 L279.90,193.41 L280.68,193.57 L281.46,193.72 L282.24,193.86 L283.03,194.00 L283.82,194.12 L284.61,194.24 L285.40,194.36 L286.19,194.46 L286.99,194.56 L287.79,194.65 L288.59,194.73 L289.40,194.81 L290.21,194.88 L291.01,194.94 L291.83,195.00 L292.64,195.05 L293.46,195.09 L294.28,195.13 L295.10,195.16 L295.92,195.18 L296.74,195.19 L297.57,195.20 L298.40,195.21 L299.23,195.21 L300.07,195.20 L300.91,195.18 L301.75,195.16 L302.59,195.14 L303.43,195.11 L304.28,195.07 L305.12,195.02 L305.97,194.98 L306.83,194.92 L307.68,194.86 L308.54,194.80 L309.40,194.73 L310.26,194.65 L311.12,194.57 L311.99,194.48 L312.86,194.39 L313.73,194.30 L314.60,194.20 L315.47,194.09 L316.35,193.98 L317.23,193.87 L318.11,193.75 L318.99,193.63 L319.88,193.50 L320.76,193.37 L321.65,193.23 L322.54,193.09 L323.44,192.94 L324.33,192.79 L325.23,192.64 L326.13,192.48 L327.03,192.32 L327.94,192.16 L328.84,191.99 L329.75,191.82 L330.66,191.64 L331.57,191.46 L332.49,191.28 L333.40,191.09 L334.32,190.90 L335.24,190.71 L336.17,190.51 L337.09,190.31 L338.02,190.11 L338.95,189.90 L339.88,189.69 L340.81,189.48 L341.75,189.26 L342.68,189.05 L343.62,188.83 L344.56,188.60 L345.50,188.38 L346.45,188.15 L347.40,187.92 L348.35,187.68 L349.30,187.44 L350.25,187.20 L351.20,186.96 L352.16,186.72 L353.12,186.47 L354.08,186.22 L355.04,185.97 L356.01,185.72 L356.97,185.47 L357.94,185.21 L358.91,184.95 L359.89,184.69 L360.86,184.43 L361.84,184.16 L362.81,183.89 L363.80,183.62 L364.78,183.35 L365.76,183.08 L366.75,182.81 L367.73,182.53 L368.72,182.26 L369.72,181.98 L370.71,181.70 L371.71,181.42 L372.70,181.13 L373.70,180.85 L374.70,180.56 L375.71,180.27 L376.71,179.99 L377.72,179.70 L378.73,179.41 L379.74,179.11 L380.75,178.82 L381.76,178.53 L382.78,178.23 L383.80,177.93 L384.82,177.64 L385.84,177.34 L386.86,177.04 L387.89,176.74 L388.92,176.44 L389.94,176.13 L390.98,175.83 L392.01,175.53 L393.04,175.22 L394.08,174.92 L395.12,174.61 L396.16,174.30 L397.20,174.00 L398.24,173.69 L399.29,173.38 L400.34,173.07 L401.38,172.76 L402.43,172.45 L403.49,172.14 L404.54,171.83 L405.60,171.52 L406.66,171.20 L407.72,170.89 L408.78,170.58 L409.84,170.26 L410.91,169.95 L411.97,169.64 L413.04,169.32 L414.11,169.01 L415.18,168.69 L416.26,168.38 L417.33,168.06 L418.41,167.75 L419.49,167.43 L420.57,167.11 L421.65,166.80 L422.74,166.48 L423.82,166.16 L424.91,165.85 L426.00,165.53 L427.09,165.22 L428.19,164.90 L429.28,164.58 L430.38,164.27 L431.48,163.95 L432.58,163.63 L433.68,163.32 L434.78,163.00 L435.89,162.68 L436.99,162.37 L438.10,162.05 L439.21,161.74 L440.32,161.42 L441.44,161.10 L442.55,160.79 L443.67,160.47 L444.79,160.16 L445.91,159.84 L447.03,159.53 L448.15,159.21 L449.28,158.90 L450.41,158.58 L451.54,158.27 L452.67,157.96 L453.80,157.64 L454.93,157.33 L456.07,157.02 L457.20,156.71 L458.34,156.39 L459.48,156.08 L460.63,155.77 L461.77,155.46 L462.91,155.15 L464.06,154.84 L465.21,154.53 L466.36,154.22 L467.51,153.91 L468.67,153.60 L469.82,153.30 L470.98,152.99 L472.14,152.68 L473.30,152.38 L474.46,152.07 L475.62,151.76 L476.79,151.46 L477.95,151.15 L479.12,150.85 L480.29,150.55 L481.46,150.24 L482.64,149.94 L483.81,149.64 L484.99,149.34 L486.16,149.03 L487.34,148.73 L488.52,148.43 L489.71,148.13 L490.89,147.83 L492.08,147.54 L493.26,147.24 L494.45,146.94 L495.64,146.64 L496.84,146.35 L498.03,146.05 L499.23,145.76 L500.42,145.46 L501.62,145.17 L502.82,144.88 L504.02,144.58 L505.23,144.29 L506.43,144.00 L507.64,143.71 L508.85,143.42 L510.05,143.13 L511.27,142.84 L512.48,142.56 L513.69,142.27 L514.91,141.98 L516.13,141.69 L517.34,141.41 L518.56,141.12 L519.79,140.84 L521.01,140.56 L522.24,140.27 L523.46,139.99 L524.69,139.71 L525.92,139.43 L527.15,139.15 L528.38,138.87 L529.62,138.59 L530.85,138.32 L532.09,138.04 L533.33,137.76 L534.57,137.49 L535.81,137.21 L537.05,136.94 L538.30,136.66 L539.55,136.39 L540.79,136.12 L542.04,135.85 L543.29,135.57 L544.55,135.30 L545.80,135.04 L547.06,134.77 L548.31,134.50 L549.57,134.23 L550.83,133.97 L552.09,133.70 L553.36,133.43 L554.62,133.17 L555.89,132.91 L557.15,132.64 L558.42,132.38 L559.69,132.12 L560.96,131.86 L562.24,131.60 L563.51,131.34 L564.79,131.08 L566.07,130.83 L567.35,130.57 L568.63,130.31 L569.91,130.06 L571.19,129.80 L572.48,129.55 L573.76,129.30 L575.05,129.04 L576.34,128.79 L577.63,128.54 L578.93,128.29 L580.22,128.04 L581.51,127.79 L582.81,127.55 L584.11,127.30 L585.41,127.05 L586.71,126.81 L588.01,126.56 L589.32,126.32 L590.62,126.08 L591.93,125.83 L593.24,125.59 L594.55,125.35 L595.86,125.11 L597.17,124.87 L598.49,124.63 L599.80,124.39 L601.12,124.16 L602.44,123.92 L603.76,123.69 L605.08,123.45 L606.40,123.22 L607.73,122.98 L609.05,122.75 L610.38,122.52 L611.71,122.29 L613.04,122.06 L614.37,121.83 L615.70,121.60 L617.04,121.37 L618.37,121.15 L619.71,120.92 L621.05,120.69 L622.39,120.47 L623.73,120.24 L625.07,120.02 L626.41,119.80 L627.76,119.58 L629.11,119.36 L630.45,119.14 L631.80,118.92 L633.15,118.70 L634.51,118.48 L635.86,118.26 L637.22,118.05 L638.57,117.83 L639.93,117.62 L641.29,117.40 L642.65,117.19 L644.01,116.98 L645.38,116.77 L646.74,116.56 L648.11,116.35 L649.48,116.14 L650.84,115.93 L652.22,115.72 L653.59,115.52 L654.96,115.31 L656.33,115.10 L657.71,114.90 L659.09,114.70 L660.47,114.49 L661.85,114.29 L663.23,114.09 L664.61,113.89 L666.00,113.69 L667.38,113.49 L668.77,113.29 L670.16,113.10 L671.55,112.90 L672.94,112.70 L674.33,112.51 L675.72,112.32 L677.12,112.12 L678.51,111.93 L679.91,111.74 L681.31,111.55 L682.71,111.36 L684.11,111.17 L685.52,110.98 L686.92,110.79 L688.33,110.61 L689.73,110.42 L691.14,110.23 L692.55,110.05 L693.96,109.87 L695.38,109.68 L696.79,109.50 L698.20,109.32 L699.62,109.14 L701.04,108.96 L702.46,108.78 L703.88,108.61 L705.30,108.43 L706.72,108.25 L708.15,108.08 L709.57,107.90 L711.00,107.73 L712.43,107.56 L713.86,107.39 L715.29,107.22 L716.72,107.05 L718.16,106.88 L719.59,106.71 L721.03,106.54 L722.46,106.38 L723.90,106.21 L725.34,106.05 L726.79,105.88 L728.23,105.72 L729.67,105.56 L731.12,105.40 L732.57,105.24 L734.01,105.08 L735.46,104.92 L736.91,104.76 L738.37,104.61 L739.82,104.45 L741.27,104.30 L742.73,104.14 L744.19,103.99 L745.65,103.84 L747.10,103.69 L748.57,103.54 L750.03,103.39 L751.49,103.24 L752.96,103.10 L754.42,102.95 L755.89,102.81 L757.36,102.67 L758.83,102.52 L760.30,102.38 L761.77,102.24 L763.25,102.10 L764.72,101.96 L766.20,101.83 L767.68,101.69 L769.16,101.56 L770.64,101.42 L772.12,101.29 L773.60,101.16 L775.09,101.03 L776.57,100.90 L778.06,100.77 L779.55,100.65 L781.03,100.52 L782.53,100.40 L784.02,100.28 L785.51,100.16 L787.00,100.04 L788.50,99.92 L790.00,99.80 L791.50,99.68 L792.99,99.57 L794.49,99.46 L796.00,99.34 L797.50,99.23" fill="none" stroke="#b00000" stroke-width="2.8" stroke-dasharray="15.5 16"/>
<path d="M197.00,769.32 L197.04,769.42 L197.12,769.61 L197.21,769.86 L197.33,770.15 L197.46,770.47 L197.60,770.82 L197.76,771.20 L197.93,771.60 L198.11,772.03 L198.30,772.47 L198.49,772.92 L198.70,773.40 L198.92,773.88 L199.15,774.38 L199.38,774.88 L199.62,775.39 L199.87,775.92 L200.13,776.44 L200.39,776.98 L200.66,777.52 L200.94,778.06 L201.23,778.60 L201.52,779.15 L201.82,779.70 L202.12,780.25 L202.43,780.80 L202.75,781.36 L203.07,781.91 L203.40,782.46 L203.73,783.01 L204.07,783.56 L204.41,784.10 L204.77,784.65 L205.12,785.19 L205.48,785.73 L205.85,786.27 L206.22,786.80 L206.60,787.33 L206.98,787.86 L207.36,788.38 L207.75,788.90 L208.15,789.42 L208.55,789.93 L208.96,790.44 L209.36,790.94 L209.78,791.44 L210.20,791.93 L210.62,792.42 L211.05,792.90 L211.48,793.38 L211.92,793.85 L212.36,794.32 L212.80,794.78 L213.25,795.24 L213.71,795.69 L214.17,796.14 L214.63,796.58 L215.09,797.02 L215.56,797.45 L216.04,797.87 L216.51,798.29 L217.00,798.70 L217.48,799.11 L217.97,799.51 L218.47,799.91 L218.96,800.30 L219.46,800.68 L219.97,801.06 L220.48,801.43 L220.99,801.79 L221.51,802.15 L222.02,802.51 L222.55,802.85 L223.07,803.19 L223.61,803.53 L224.14,803.85 L224.68,804.18 L225.22,804.49 L225.76,804.80 L226.31,805.10 L226.86,805.40 L227.42,805.69 L227.97,805.97 L228.53,806.25 L229.10,806.51 L229.67,806.78 L230.24,807.03 L230.81,807.28 L231.39,807.53 L231.97,807.76 L232.56,807.99 L233.15,808.22 L233.74,808.43 L234.33,808.64 L234.93,808.84 L235.53,809.04 L236.13,809.23 L236.74,809.41 L237.35,809.58 L237.96,809.75 L238.58,809.91 L239.20,810.07 L239.82,810.22 L240.44,810.36 L241.07,810.49 L241.70,810.62 L242.34,810.74 L242.97,810.85 L243.61,810.95 L244.26,811.05 L244.90,811.15 L245.55,811.23 L246.20,811.31 L246.86,811.38 L247.51,811.44 L248.18,811.50 L248.84,811.55 L249.50,811.59 L250.17,811.63 L250.84,811.65 L251.52,811.68 L252.20,811.69 L252.88,811.70 L253.56,811.70 L254.25,811.69 L254.93,811.68 L255.62,811.66 L256.32,811.63 L257.01,811.59 L257.71,811.55 L258.42,811.50 L259.12,811.45 L259.83,811.39 L260.54,811.32 L261.25,811.24 L261.97,811.16 L262.68,811.07 L263.40,810.97 L264.13,810.87 L264.85,810.76 L265.58,810.64 L266.31,810.51 L267.04,810.38 L267.78,810.25 L268.52,810.10 L269.26,809.95 L270.00,809.79 L270.75,809.63 L271.50,809.46 L272.25,809.28 L273.00,809.10 L273.76,808.91 L274.52,808.71 L275.28,808.51 L276.04,808.30 L276.81,808.08 L277.58,807.86 L278.35,807.63 L279.12,807.39 L279.90,807.15 L280.68,806.90 L281.46,806.65 L282.24,806.39 L283.03,806.12 L283.82,805.85 L284.61,805.57 L285.40,805.29 L286.19,805.00 L286.99,804.70 L287.79,804.40 L288.59,804.09 L289.40,803.78 L290.21,803.46 L291.01,803.14 L291.83,802.81 L292.64,802.47 L293.46,802.13 L294.28,801.78 L295.10,801.43 L295.92,801.07 L296.74,800.71 L297.57,800.34 L298.40,799.97 L299.23,799.59 L300.07,799.21 L300.91,798.82 L301.75,798.43 L302.59,798.03 L303.43,797.62 L304.28,797.22 L305.12,796.80 L305.97,796.38 L306.83,795.96 L307.68,795.54 L308.54,795.10 L309.40,794.67 L310.26,794.23 L311.12,793.78 L311.99,793.33 L312.86,792.88 L313.73,792.42 L314.60,791.96 L315.47,791.49 L316.35,791.02 L317.23,790.55 L318.11,790.07 L318.99,789.59 L319.88,789.10 L320.76,788.61 L321.65,788.12 L322.54,787.62 L323.44,787.12 L324.33,786.62 L325.23,786.11 L326.13,785.60 L327.03,785.08 L327.94,784.57 L328.84,784.05 L329.75,783.52 L330.66,782.99 L331.57,782.46 L332.49,781.93 L333.40,781.39 L334.32,780.85 L335.24,780.31 L336.17,779.77 L337.09,779.22 L338.02,778.67 L338.95,778.11 L339.88,777.56 L340.81,777.00 L341.75,776.44 L342.68,775.88 L343.62,775.31 L344.56,774.74 L345.50,774.17 L346.45,773.60 L347.40,773.02 L348.35,772.45 L349.30,771.87 L350.25,771.29 L351.20,770.70 L352.16,770.12 L353.12,769.53 L354.08,768.94 L355.04,768.35 L356.01,767.76 L356.97,767.17 L357.94,766.57 L358.91,765.98 L359.89,765.38 L360.86,764.78 L361.84,764.18 L362.81,763.58 L363.80,762.97 L364.78,762.37 L365.76,761.76 L366.75,761.15 L367.73,760.54 L368.72,759.93 L369.72,759.32 L370.71,758.71 L371.71,758.10 L372.70,757.49 L373.70,756.87 L374.70,756.26 L375.71,755.64 L376.71,755.02 L377.72,754.40 L378.73,753.79 L379.74,753.17 L380.75,752.55 L381.76,751.93 L382.78,751.31 L383.80,750.69 L384.82,750.07 L385.84,749.44 L386.86,748.82 L387.89,748.20 L388.92,747.58 L389.94,746.95 L390.98,746.33 L392.01,745.71 L393.04,745.08 L394.08,744.46 L395.12,743.84 L396.16,743.21 L397.20,742.59 L398.24,741.96 L399.29,741.34 L400.34,740.72 L401.38,740.09 L402.43,739.47 L403.49,738.85 L404.54,738.23 L405.60,737.60 L406.66,736.98 L407.72,736.36 L408.78,735.74 L409.84,735.12 L410.91,734.49 L411.97,733.87 L413.04,733.25 L414.11,732.63 L415.18,732.02 L416.26,731.40 L417.33,730.78 L418.41,730.16 L419.49,729.55 L420.57,728.93 L421.65,728.31 L422.74,727.70 L423.82,727.08 L424.91,726.47 L426.00,725.86 L427.09,725.25 L428.19,724.64 L429.28,724.02 L430.38,723.42 L431.48,722.81 L432.58,722.20 L433.68,721.59 L434.78,720.99 L435.89,720.38 L436.99,719.78 L438.10,719.17 L439.21,718.57 L440.32,717.97 L441.44,717.37 L442.55,716.77 L443.67,716.17 L444.79,715.57 L445.91,714.98 L447.03,714.38 L448.15,713.79 L449.28,713.20 L450.41,712.61 L451.54,712.02 L452.67,711.43 L453.80,710.84 L454.93,710.25 L456.07,709.67 L457.20,709.08 L458.34,708.50 L459.48,707.92 L460.63,707.33 L461.77,706.76 L462.91,706.18 L464.06,705.60 L465.21,705.02 L466.36,704.45 L467.51,703.88 L468.67,703.31 L469.82,702.73 L470.98,702.17 L472.14,701.60 L473.30,701.03 L474.46,700.47 L475.62,699.90 L476.79,699.34 L477.95,698.78 L479.12,698.22 L480.29,697.66 L481.46,697.11 L482.64,696.55 L483.81,696.00 L484.99,695.45 L486.16,694.89 L487.34,694.35 L488.52,693.80 L489.71,693.25 L490.89,692.71 L492.08,692.16 L493.26,691.62 L494.45,691.08 L495.64,690.54 L496.84,690.00 L498.03,689.47 L499.23,688.93 L500.42,688.40 L501.62,687.87 L502.82,687.34 L504.02,686.81 L505.23,686.28 L506.43,685.76 L507.64,685.24 L508.85,684.71 L510.05,684.19 L511.27,683.67 L512.48,683.16 L513.69,682.64 L514.91,682.12 L516.13,681.61 L517.34,681.10 L518.56,680.59 L519.79,680.08 L521.01,679.58 L522.24,679.07 L523.46,678.57 L524.69,678.06 L525.92,677.56 L527.15,677.07 L528.38,676.57 L529.62,676.07 L530.85,675.58 L532.09,675.09 L533.33,674.59 L534.57,674.10 L535.81,673.62 L537.05,673.13 L538.30,672.65 L539.55,672.16 L540.79,671.68 L542.04,671.20 L543.29,670.72 L544.55,670.24 L545.80,669.77 L547.06,669.30 L548.31,668.82 L549.57,668.35 L550.83,667.88 L552.09,667.42 L553.36,666.95 L554.62,666.48 L555.89,666.02 L557.15,665.56 L558.42,665.10 L559.69,664.64 L560.96,664.19 L562.24,663.73 L563.51,663.28 L564.79,662.83 L566.07,662.38 L567.35,661.93 L568.63,661.49 L569.91,661.05 L571.19,660.61 L572.48,660.17 L573.76,659.73 L575.05,659.30 L576.34,658.86 L577.63,658.43 L578.93,658.00 L580.22,657.58 L581.51,657.15 L582.81,656.73 L584.11,656.31 L585.41,655.89 L586.71,655.47 L588.01,655.05 L589.32,654.64 L590.62,654.22 L591.93,653.81 L593.24,653.40 L594.55,652.99 L595.86,652.59 L597.17,652.18 L598.49,651.78 L599.80,651.38 L601.12,650.97 L602.44,650.58 L603.76,650.18 L605.08,649.78 L606.40,649.39 L607.73,648.99 L609.05,648.60 L610.38,648.21 L611.71,647.82 L613.04,647.43 L614.37,647.05 L615.70,646.66 L617.04,646.28 L618.37,645.89 L619.71,645.51 L621.05,645.13 L622.39,644.75 L623.73,644.37 L625.07,643.99 L626.41,643.62 L627.76,643.24 L629.11,642.87 L630.45,642.49 L631.80,642.12 L633.15,641.75 L634.51,641.38 L635.86,641.01 L637.22,640.64 L638.57,640.27 L639.93,639.90 L641.29,639.54 L642.65,639.17 L644.01,638.81 L645.38,638.45 L646.74,638.09 L648.11,637.73 L649.48,637.37 L650.84,637.01 L652.22,636.65 L653.59,636.30 L654.96,635.95 L656.33,635.59 L657.71,635.24 L659.09,634.89 L660.47,634.55 L661.85,634.20 L663.23,633.85 L664.61,633.51 L666.00,633.17 L667.38,632.82 L668.77,632.48 L670.16,632.14 L671.55,631.81 L672.94,631.47 L674.33,631.13 L675.72,630.80 L677.12,630.46 L678.51,630.13 L679.91,629.80 L681.31,629.47 L682.71,629.14 L684.11,628.82 L685.52,628.49 L686.92,628.17 L688.33,627.84 L689.73,627.52 L691.14,627.20 L692.55,626.88 L693.96,626.56 L695.38,626.24 L696.79,625.92 L698.20,625.61 L699.62,625.29 L701.04,624.98 L702.46,624.67 L703.88,624.36 L705.30,624.05 L706.72,623.74 L708.15,623.43 L709.57,623.12 L711.00,622.82 L712.43,622.51 L713.86,622.21 L715.29,621.91 L716.72,621.61 L718.16,621.31 L719.59,621.01 L721.03,620.71 L722.46,620.41 L723.90,620.12 L725.34,619.82 L726.79,619.53 L728.23,619.24 L729.67,618.95 L731.12,618.66 L732.57,618.37 L734.01,618.08 L735.46,617.79 L736.91,617.51 L738.37,617.22 L739.82,616.94 L741.27,616.65 L742.73,616.37 L744.19,616.09 L745.65,615.81 L747.10,615.53 L748.57,615.25 L750.03,614.98 L751.49,614.70 L752.96,614.43 L754.42,614.15 L755.89,613.88 L757.36,613.61 L758.83,613.33 L760.30,613.06 L761.77,612.80 L763.25,612.53 L764.72,612.26 L766.20,611.99 L767.68,611.73 L769.16,611.46 L770.64,611.20 L772.12,610.94 L773.60,610.68 L775.09,610.41 L776.57,610.15 L778.06,609.90 L779.55,609.64 L781.03,609.38 L782.53,609.12 L784.02,608.87 L785.51,608.62 L787.00,608.36 L788.50,608.11 L790.00,607.86 L791.50,607.61 L792.99,607.36 L794.49,607.11 L796.00,606.86 L797.50,606.61" fill="none" stroke="#000" stroke-width="2.7"/>
<path d="M197.00,798.26 L197.04,798.26 L197.12,798.27 L197.21,798.28 L197.33,798.29 L197.46,798.30 L197.60,798.31 L197.76,798.32 L197.93,798.34 L198.11,798.35 L198.30,798.36 L198.49,798.38 L198.70,798.39 L198.92,798.40 L199.15,798.41 L199.38,798.41 L199.62,798.42 L199.87,798.43 L200.13,798.43 L200.39,798.43 L200.66,798.43 L200.94,798.43 L201.23,798.42 L201.52,798.42 L201.82,798.40 L202.12,798.39 L202.43,798.38 L202.75,798.36 L203.07,798.33 L203.40,798.31 L203.73,798.28 L204.07,798.25 L204.41,798.21 L204.77,798.17 L205.12,798.13 L205.48,798.08 L205.85,798.03 L206.22,797.97 L206.60,797.91 L206.98,797.85 L207.36,797.78 L207.75,797.71 L208.15,797.63 L208.55,797.54 L208.96,797.46 L209.36,797.36 L209.78,797.27 L210.20,797.16 L210.62,797.06 L211.05,796.94 L211.48,796.83 L211.92,796.70 L212.36,796.58 L212.80,796.44 L213.25,796.30 L213.71,796.16 L214.17,796.01 L214.63,795.85 L215.09,795.69 L215.56,795.52 L216.04,795.35 L216.51,795.17 L217.00,794.99 L217.48,794.80 L217.97,794.60 L218.47,794.40 L218.96,794.19 L219.46,793.98 L219.97,793.76 L220.48,793.54 L220.99,793.30 L221.51,793.07 L222.02,792.82 L222.55,792.58 L223.07,792.32 L223.61,792.06 L224.14,791.79 L224.68,791.52 L225.22,791.24 L225.76,790.96 L226.31,790.67 L226.86,790.37 L227.42,790.07 L227.97,789.76 L228.53,789.45 L229.10,789.13 L229.67,788.81 L230.24,788.47 L230.81,788.14 L231.39,787.80 L231.97,787.45 L232.56,787.09 L233.15,786.74 L233.74,786.37 L234.33,786.00 L234.93,785.63 L235.53,785.24 L236.13,784.86 L236.74,784.47 L237.35,784.07 L237.96,783.67 L238.58,783.26 L239.20,782.85 L239.82,782.43 L240.44,782.01 L241.07,781.58 L241.70,781.14 L242.34,780.71 L242.97,780.26 L243.61,779.82 L244.26,779.36 L244.90,778.91 L245.55,778.45 L246.20,777.98 L246.86,777.51 L247.51,777.03 L248.18,776.55 L248.84,776.07 L249.50,775.58 L250.17,775.09 L250.84,774.59 L251.52,774.09 L252.20,773.59 L252.88,773.08 L253.56,772.56 L254.25,772.05 L254.93,771.53 L255.62,771.00 L256.32,770.48 L257.01,769.95 L257.71,769.41 L258.42,768.87 L259.12,768.33 L259.83,767.79 L260.54,767.24 L261.25,766.69 L261.97,766.13 L262.68,765.58 L263.40,765.01 L264.13,764.45 L264.85,763.89 L265.58,763.32 L266.31,762.74 L267.04,762.17 L267.78,761.59 L268.52,761.01 L269.26,760.43 L270.00,759.85 L270.75,759.26 L271.50,758.67 L272.25,758.08 L273.00,757.49 L273.76,756.89 L274.52,756.30 L275.28,755.70 L276.04,755.10 L276.81,754.49 L277.58,753.89 L278.35,753.28 L279.12,752.67 L279.90,752.06 L280.68,751.45 L281.46,750.84 L282.24,750.23 L283.03,749.61 L283.82,748.99 L284.61,748.38 L285.40,747.76 L286.19,747.14 L286.99,746.52 L287.79,745.89 L288.59,745.27 L289.40,744.65 L290.21,744.02 L291.01,743.40 L291.83,742.77 L292.64,742.14 L293.46,741.52 L294.28,740.89 L295.10,740.26 L295.92,739.63 L296.74,739.00 L297.57,738.37 L298.40,737.74 L299.23,737.11 L300.07,736.48 L300.91,735.85 L301.75,735.21 L302.59,734.58 L303.43,733.95 L304.28,733.32 L305.12,732.69 L305.97,732.06 L306.83,731.43 L307.68,730.80 L308.54,730.16 L309.40,729.53 L310.26,728.90 L311.12,728.27 L311.99,727.64 L312.86,727.01 L313.73,726.39 L314.60,725.76 L315.47,725.13 L316.35,724.50 L317.23,723.87 L318.11,723.25 L318.99,722.62 L319.88,722.00 L320.76,721.37 L321.65,720.75 L322.54,720.13 L323.44,719.50 L324.33,718.88 L325.23,718.26 L326.13,717.64 L327.03,717.03 L327.94,716.41 L328.84,715.79 L329.75,715.17 L330.66,714.56 L331.57,713.95 L332.49,713.33 L333.40,712.72 L334.32,712.11 L335.24,711.50 L336.17,710.89 L337.09,710.29 L338.02,709.68 L338.95,709.08 L339.88,708.47 L340.81,707.87 L341.75,707.27 L342.68,706.67 L343.62,706.07 L344.56,705.48 L345.50,704.88 L346.45,704.29 L347.40,703.69 L348.35,703.10 L349.30,702.51 L350.25,701.92 L351.20,701.34 L352.16,700.75 L353.12,700.17 L354.08,699.59 L355.04,699.00 L356.01,698.42 L356.97,697.85 L357.94,697.27 L358.91,696.70 L359.89,696.12 L360.86,695.55 L361.84,694.98 L362.81,694.41 L363.80,693.85 L364.78,693.28 L365.76,692.72 L366.75,692.16 L367.73,691.59 L368.72,691.04 L369.72,690.48 L370.71,689.92 L371.71,689.37 L372.70,688.82 L373.70,688.27 L374.70,687.72 L375.71,687.17 L376.71,686.63 L377.72,686.09 L378.73,685.54 L379.74,685.00 L380.75,684.47 L381.76,683.93 L382.78,683.40 L383.80,682.86 L384.82,682.33 L385.84,681.80 L386.86,681.28 L387.89,680.75 L388.92,680.23 L389.94,679.71 L390.98,679.19 L392.01,678.67 L393.04,678.15 L394.08,677.64 L395.12,677.12 L396.16,676.61 L397.20,676.10 L398.24,675.60 L399.29,675.09 L400.34,674.59 L401.38,674.08 L402.43,673.58 L403.49,673.09 L404.54,672.59 L405.60,672.09 L406.66,671.60 L407.72,671.11 L408.78,670.62 L409.84,670.13 L410.91,669.65 L411.97,669.16 L413.04,668.68 L414.11,668.20 L415.18,667.72 L416.26,667.25 L417.33,666.77 L418.41,666.30 L419.49,665.83 L420.57,665.36 L421.65,664.89 L422.74,664.43 L423.82,663.96 L424.91,663.50 L426.00,663.04 L427.09,662.58 L428.19,662.13 L429.28,661.67 L430.38,661.22 L431.48,660.77 L432.58,660.32 L433.68,659.87 L434.78,659.42 L435.89,658.98 L436.99,658.54 L438.10,658.09 L439.21,657.66 L440.32,657.22 L441.44,656.78 L442.55,656.35 L443.67,655.92 L444.79,655.49 L445.91,655.06 L447.03,654.63 L448.15,654.21 L449.28,653.78 L450.41,653.36 L451.54,652.94 L452.67,652.53 L453.80,652.11 L454.93,651.69 L456.07,651.28 L457.20,650.87 L458.34,650.46 L459.48,650.05 L460.63,649.65 L461.77,649.24 L462.91,648.84 L464.06,648.44 L465.21,648.04 L466.36,647.64 L467.51,647.24 L468.67,646.85 L469.82,646.46 L470.98,646.07 L472.14,645.68 L473.30,645.29 L474.46,644.90 L475.62,644.52 L476.79,644.13 L477.95,643.75 L479.12,643.37 L480.29,642.99 L481.46,642.62 L482.64,642.24 L483.81,641.87 L484.99,641.50 L486.16,641.13 L487.34,640.76 L488.52,640.39 L489.71,640.02 L490.89,639.66 L492.08,639.30 L493.26,638.94 L494.45,638.58 L495.64,638.22 L496.84,637.86 L498.03,637.51 L499.23,637.15 L500.42,636.80 L501.62,636.45 L502.82,636.10 L504.02,635.76 L505.23,635.41 L506.43,635.06 L507.64,634.72 L508.85,634.38 L510.05,634.04 L511.27,633.70 L512.48,633.36 L513.69,633.03 L514.91,632.69 L516.13,632.36 L517.34,632.03 L518.56,631.70 L519.79,631.37 L521.01,631.04 L522.24,630.72 L523.46,630.39 L524.69,630.07 L525.92,629.75 L527.15,629.43 L528.38,629.11 L529.62,628.79 L530.85,628.48 L532.09,628.16 L533.33,627.85 L534.57,627.54 L535.81,627.23 L537.05,626.92 L538.30,626.61 L539.55,626.30 L540.79,626.00 L542.04,625.69 L543.29,625.39 L544.55,625.09 L545.80,624.79 L547.06,624.49 L548.31,624.19 L549.57,623.89 L550.83,623.60 L552.09,623.31 L553.36,623.01 L554.62,622.72 L555.89,622.43 L557.15,622.14 L558.42,621.86 L559.69,621.57 L560.96,621.28 L562.24,621.00 L563.51,620.72 L564.79,620.44 L566.07,620.16 L567.35,619.88 L568.63,619.60 L569.91,619.32 L571.19,619.05 L572.48,618.77 L573.76,618.50 L575.05,618.23 L576.34,617.96 L577.63,617.69 L578.93,617.42 L580.22,617.15 L581.51,616.89 L582.81,616.62 L584.11,616.36 L585.41,616.10 L586.71,615.84 L588.01,615.58 L589.32,615.32 L590.62,615.06 L591.93,614.80 L593.24,614.55 L594.55,614.29 L595.86,614.04 L597.17,613.78 L598.49,613.53 L599.80,613.28 L601.12,613.03 L602.44,612.78 L603.76,612.54 L605.08,612.29 L606.40,612.05 L607.73,611.80 L609.05,611.56 L610.38,611.32 L611.71,611.08 L613.04,610.84 L614.37,610.60 L615.70,610.36 L617.04,610.12 L618.37,609.89 L619.71,609.65 L621.05,609.42 L622.39,609.19 L623.73,608.95 L625.07,608.72 L626.41,608.49 L627.76,608.27 L629.11,608.04 L630.45,607.81 L631.80,607.59 L633.15,607.36 L634.51,607.14 L635.86,606.91 L637.22,606.69 L638.57,606.47 L639.93,606.25 L641.29,606.03 L642.65,605.81 L644.01,605.60 L645.38,605.38 L646.74,605.16 L648.11,604.95 L649.48,604.74 L650.84,604.52 L652.22,604.31 L653.59,604.10 L654.96,603.89 L656.33,603.68 L657.71,603.47 L659.09,603.26 L660.47,603.06 L661.85,602.85 L663.23,602.65 L664.61,602.44 L666.00,602.24 L667.38,602.04 L668.77,601.84 L670.16,601.64 L671.55,601.44 L672.94,601.24 L674.33,601.04 L675.72,600.84 L677.12,600.65 L678.51,600.45 L679.91,600.26 L681.31,600.06 L682.71,599.87 L684.11,599.68 L685.52,599.49 L686.92,599.30 L688.33,599.11 L689.73,598.92 L691.14,598.73 L692.55,598.54 L693.96,598.36 L695.38,598.17 L696.79,597.99 L698.20,597.80 L699.62,597.62 L701.04,597.44 L702.46,597.25 L703.88,597.07 L705.30,596.89 L706.72,596.71 L708.15,596.53 L709.57,596.36 L711.00,596.18 L712.43,596.00 L713.86,595.83 L715.29,595.65 L716.72,595.48 L718.16,595.30 L719.59,595.13 L721.03,594.96 L722.46,594.79 L723.90,594.62 L725.34,594.45 L726.79,594.28 L728.23,594.11 L729.67,593.94 L731.12,593.77 L732.57,593.61 L734.01,593.44 L735.46,593.28 L736.91,593.11 L738.37,592.95 L739.82,592.78 L741.27,592.62 L742.73,592.46 L744.19,592.30 L745.65,592.14 L747.10,591.98 L748.57,591.82 L750.03,591.66 L751.49,591.50 L752.96,591.35 L754.42,591.19 L755.89,591.03 L757.36,590.88 L758.83,590.72 L760.30,590.57 L761.77,590.42 L763.25,590.27 L764.72,590.11 L766.20,589.96 L767.68,589.81 L769.16,589.66 L770.64,589.51 L772.12,589.36 L773.60,589.21 L775.09,589.07 L776.57,588.92 L778.06,588.77 L779.55,588.63 L781.03,588.48 L782.53,588.34 L784.02,588.19 L785.51,588.05 L787.00,587.91 L788.50,587.77 L790.00,587.62 L791.50,587.48 L792.99,587.34 L794.49,587.20 L796.00,587.06 L797.50,586.92" fill="none" stroke="#0000ff" stroke-width="2.9" stroke-dasharray="15.4 16.1"/><path d="M197.00,798.26 L197.04,798.26 L197.12,798.27 L197.21,798.28 L197.33,798.29 L197.46,798.30 L197.60,798.31 L197.76,798.32 L197.93,798.34 L198.11,798.35 L198.30,798.36 L198.49,798.38 L198.70,798.39 L198.92,798.40 L199.15,798.41 L199.38,798.41 L199.62,798.42 L199.87,798.43 L200.13,798.43 L200.39,798.43 L200.66,798.43 L200.94,798.43 L201.23,798.42 L201.52,798.42 L201.82,798.40 L202.12,798.39 L202.43,798.38 L202.75,798.36 L203.07,798.33 L203.40,798.31 L203.73,798.28 L204.07,798.25 L204.41,798.21 L204.77,798.17 L205.12,798.13 L205.48,798.08 L205.85,798.03 L206.22,797.97 L206.60,797.91 L206.98,797.85 L207.36,797.78 L207.75,797.71 L208.15,797.63 L208.55,797.54 L208.96,797.46 L209.36,797.36 L209.78,797.27 L210.20,797.16 L210.62,797.06 L211.05,796.94 L211.48,796.83 L211.92,796.70 L212.36,796.58 L212.80,796.44 L213.25,796.30 L213.71,796.16 L214.17,796.01 L214.63,795.85 L215.09,795.69 L215.56,795.52 L216.04,795.35 L216.51,795.17 L217.00,794.99 L217.48,794.80 L217.97,794.60 L218.47,794.40 L218.96,794.19 L219.46,793.98 L219.97,793.76 L220.48,793.54 L220.99,793.30 L221.51,793.07 L222.02,792.82 L222.55,792.58 L223.07,792.32 L223.61,792.06 L224.14,791.79 L224.68,791.52 L225.22,791.24 L225.76,790.96 L226.31,790.67 L226.86,790.37 L227.42,790.07 L227.97,789.76 L228.53,789.45 L229.10,789.13 L229.67,788.81 L230.24,788.47 L230.81,788.14 L231.39,787.80 L231.97,787.45 L232.56,787.09 L233.15,786.74 L233.74,786.37 L234.33,786.00 L234.93,785.63 L235.53,785.24 L236.13,784.86 L236.74,784.47 L237.35,784.07 L237.96,783.67 L238.58,783.26 L239.20,782.85 L239.82,782.43 L240.44,782.01 L241.07,781.58 L241.70,781.14 L242.34,780.71 L242.97,780.26 L243.61,779.82 L244.26,779.36 L244.90,778.91 L245.55,778.45 L246.20,777.98 L246.86,777.51 L247.51,777.03 L248.18,776.55 L248.84,776.07 L249.50,775.58 L250.17,775.09 L250.84,774.59 L251.52,774.09 L252.20,773.59 L252.88,773.08 L253.56,772.56 L254.25,772.05 L254.93,771.53 L255.62,771.00 L256.32,770.48 L257.01,769.95 L257.71,769.41 L258.42,768.87 L259.12,768.33 L259.83,767.79 L260.54,767.24 L261.25,766.69 L261.97,766.13 L262.68,765.58 L263.40,765.01 L264.13,764.45 L264.85,763.89 L265.58,763.32 L266.31,762.74 L267.04,762.17 L267.78,761.59 L268.52,761.01 L269.26,760.43 L270.00,759.85 L270.75,759.26 L271.50,758.67 L272.25,758.08 L273.00,757.49 L273.76,756.89 L274.52,756.30 L275.28,755.70 L276.04,755.10 L276.81,754.49 L277.58,753.89 L278.35,753.28 L279.12,752.67 L279.90,752.06 L280.68,751.45 L281.46,750.84 L282.24,750.23 L283.03,749.61 L283.82,748.99 L284.61,748.38 L285.40,747.76 L286.19,747.14 L286.99,746.52 L287.79,745.89 L288.59,745.27 L289.40,744.65 L290.21,744.02 L291.01,743.40 L291.83,742.77 L292.64,742.14 L293.46,741.52 L294.28,740.89 L295.10,740.26 L295.92,739.63 L296.74,739.00 L297.57,738.37 L298.40,737.74 L299.23,737.11 L300.07,736.48 L300.91,735.85 L301.75,735.21 L302.59,734.58 L303.43,733.95 L304.28,733.32 L305.12,732.69 L305.97,732.06 L306.83,731.43 L307.68,730.80 L308.54,730.16 L309.40,729.53 L310.26,728.90 L311.12,728.27 L311.99,727.64 L312.86,727.01 L313.73,726.39 L314.60,725.76 L315.47,725.13 L316.35,724.50 L317.23,723.87 L318.11,723.25 L318.99,722.62 L319.88,722.00 L320.76,721.37 L321.65,720.75 L322.54,720.13 L323.44,719.50 L324.33,718.88 L325.23,718.26 L326.13,717.64 L327.03,717.03 L327.94,716.41 L328.84,715.79 L329.75,715.17 L330.66,714.56 L331.57,713.95 L332.49,713.33 L333.40,712.72 L334.32,712.11 L335.24,711.50 L336.17,710.89 L337.09,710.29 L338.02,709.68 L338.95,709.08 L339.88,708.47 L340.81,707.87 L341.75,707.27 L342.68,706.67 L343.62,706.07 L344.56,705.48 L345.50,704.88 L346.45,704.29 L347.40,703.69 L348.35,703.10 L349.30,702.51 L350.25,701.92 L351.20,701.34 L352.16,700.75 L353.12,700.17 L354.08,699.59 L355.04,699.00 L356.01,698.42 L356.97,697.85 L357.94,697.27 L358.91,696.70 L359.89,696.12 L360.86,695.55 L361.84,694.98 L362.81,694.41 L363.80,693.85 L364.78,693.28 L365.76,692.72 L366.75,692.16 L367.73,691.59 L368.72,691.04 L369.72,690.48 L370.71,689.92 L371.71,689.37 L372.70,688.82 L373.70,688.27 L374.70,687.72 L375.71,687.17 L376.71,686.63 L377.72,686.09 L378.73,685.54 L379.74,685.00 L380.75,684.47 L381.76,683.93 L382.78,683.40 L383.80,682.86 L384.82,682.33 L385.84,681.80 L386.86,681.28 L387.89,680.75 L388.92,680.23 L389.94,679.71 L390.98,679.19 L392.01,678.67 L393.04,678.15 L394.08,677.64 L395.12,677.12 L396.16,676.61 L397.20,676.10 L398.24,675.60 L399.29,675.09 L400.34,674.59 L401.38,674.08 L402.43,673.58 L403.49,673.09 L404.54,672.59 L405.60,672.09 L406.66,671.60 L407.72,671.11 L408.78,670.62 L409.84,670.13 L410.91,669.65 L411.97,669.16 L413.04,668.68 L414.11,668.20 L415.18,667.72 L416.26,667.25 L417.33,666.77 L418.41,666.30 L419.49,665.83 L420.57,665.36 L421.65,664.89 L422.74,664.43 L423.82,663.96 L424.91,663.50 L426.00,663.04 L427.09,662.58 L428.19,662.13 L429.28,661.67 L430.38,661.22 L431.48,660.77 L432.58,660.32 L433.68,659.87 L434.78,659.42 L435.89,658.98 L436.99,658.54 L438.10,658.09 L439.21,657.66 L440.32,657.22 L441.44,656.78 L442.55,656.35 L443.67,655.92 L444.79,655.49 L445.91,655.06 L447.03,654.63 L448.15,654.21 L449.28,653.78 L450.41,653.36 L451.54,652.94 L452.67,652.53 L453.80,652.11 L454.93,651.69 L456.07,651.28 L457.20,650.87 L458.34,650.46 L459.48,650.05 L460.63,649.65 L461.77,649.24 L462.91,648.84 L464.06,648.44 L465.21,648.04 L466.36,647.64 L467.51,647.24 L468.67,646.85 L469.82,646.46 L470.98,646.07 L472.14,645.68 L473.30,645.29 L474.46,644.90 L475.62,644.52 L476.79,644.13 L477.95,643.75 L479.12,643.37 L480.29,642.99 L481.46,642.62 L482.64,642.24 L483.81,641.87 L484.99,641.50 L486.16,641.13 L487.34,640.76 L488.52,640.39 L489.71,640.02 L490.89,639.66 L492.08,639.30 L493.26,638.94 L494.45,638.58 L495.64,638.22 L496.84,637.86 L498.03,637.51 L499.23,637.15 L500.42,636.80 L501.62,636.45 L502.82,636.10 L504.02,635.76 L505.23,635.41 L506.43,635.06 L507.64,634.72 L508.85,634.38 L510.05,634.04 L511.27,633.70 L512.48,633.36 L513.69,633.03 L514.91,632.69 L516.13,632.36 L517.34,632.03 L518.56,631.70 L519.79,631.37 L521.01,631.04 L522.24,630.72 L523.46,630.39 L524.69,630.07 L525.92,629.75 L527.15,629.43 L528.38,629.11 L529.62,628.79 L530.85,628.48 L532.09,628.16 L533.33,627.85 L534.57,627.54 L535.81,627.23 L537.05,626.92 L538.30,626.61 L539.55,626.30 L540.79,626.00 L542.04,625.69 L543.29,625.39 L544.55,625.09 L545.80,624.79 L547.06,624.49 L548.31,624.19 L549.57,623.89 L550.83,623.60 L552.09,623.31 L553.36,623.01 L554.62,622.72 L555.89,622.43 L557.15,622.14 L558.42,621.86 L559.69,621.57 L560.96,621.28 L562.24,621.00 L563.51,620.72 L564.79,620.44 L566.07,620.16 L567.35,619.88 L568.63,619.60 L569.91,619.32 L571.19,619.05 L572.48,618.77 L573.76,618.50 L575.05,618.23 L576.34,617.96 L577.63,617.69 L578.93,617.42 L580.22,617.15 L581.51,616.89 L582.81,616.62 L584.11,616.36 L585.41,616.10 L586.71,615.84 L588.01,615.58 L589.32,615.32 L590.62,615.06 L591.93,614.80 L593.24,614.55 L594.55,614.29 L595.86,614.04 L597.17,613.78 L598.49,613.53 L599.80,613.28 L601.12,613.03 L602.44,612.78 L603.76,612.54 L605.08,612.29 L606.40,612.05 L607.73,611.80 L609.05,611.56 L610.38,611.32 L611.71,611.08 L613.04,610.84 L614.37,610.60 L615.70,610.36 L617.04,610.12 L618.37,609.89 L619.71,609.65 L621.05,609.42 L622.39,609.19 L623.73,608.95 L625.07,608.72 L626.41,608.49 L627.76,608.27 L629.11,608.04 L630.45,607.81 L631.80,607.59 L633.15,607.36 L634.51,607.14 L635.86,606.91 L637.22,606.69 L638.57,606.47 L639.93,606.25 L641.29,606.03 L642.65,605.81 L644.01,605.60 L645.38,605.38 L646.74,605.16 L648.11,604.95 L649.48,604.74 L650.84,604.52 L652.22,604.31 L653.59,604.10 L654.96,603.89 L656.33,603.68 L657.71,603.47 L659.09,603.26 L660.47,603.06 L661.85,602.85 L663.23,602.65 L664.61,602.44 L666.00,602.24 L667.38,602.04 L668.77,601.84 L670.16,601.64 L671.55,601.44 L672.94,601.24 L674.33,601.04 L675.72,600.84 L677.12,600.65 L678.51,600.45 L679.91,600.26 L681.31,600.06 L682.71,599.87 L684.11,599.68 L685.52,599.49 L686.92,599.30 L688.33,599.11 L689.73,598.92 L691.14,598.73 L692.55,598.54 L693.96,598.36 L695.38,598.17 L696.79,597.99 L698.20,597.80 L699.62,597.62 L701.04,597.44 L702.46,597.25 L703.88,597.07 L705.30,596.89 L706.72,596.71 L708.15,596.53 L709.57,596.36 L711.00,596.18 L712.43,596.00 L713.86,595.83 L715.29,595.65 L716.72,595.48 L718.16,595.30 L719.59,595.13 L721.03,594.96 L722.46,594.79 L723.90,594.62 L725.34,594.45 L726.79,594.28 L728.23,594.11 L729.67,593.94 L731.12,593.77 L732.57,593.61 L734.01,593.44 L735.46,593.28 L736.91,593.11 L738.37,592.95 L739.82,592.78 L741.27,592.62 L742.73,592.46 L744.19,592.30 L745.65,592.14 L747.10,591.98 L748.57,591.82 L750.03,591.66 L751.49,591.50 L752.96,591.35 L754.42,591.19 L755.89,591.03 L757.36,590.88 L758.83,590.72 L760.30,590.57 L761.77,590.42 L763.25,590.27 L764.72,590.11 L766.20,589.96 L767.68,589.81 L769.16,589.66 L770.64,589.51 L772.12,589.36 L773.60,589.21 L775.09,589.07 L776.57,588.92 L778.06,588.77 L779.55,588.63 L781.03,588.48 L782.53,588.34 L784.02,588.19 L785.51,588.05 L787.00,587.91 L788.50,587.77 L790.00,587.62 L791.50,587.48 L792.99,587.34 L794.49,587.20 L796.00,587.06 L797.50,586.92" fill="none" stroke="#0000ff" stroke-width="5.1" stroke-linecap="round" stroke-dasharray="0 31.5" stroke-dashoffset="-23.4"/>
<path d="M197.00,945.02 L197.04,945.08 L197.12,945.17 L197.21,945.30 L197.33,945.44 L197.46,945.61 L197.60,945.79 L197.76,945.98 L197.93,946.18 L198.11,946.39 L198.30,946.61 L198.49,946.84 L198.70,947.07 L198.92,947.31 L199.15,947.55 L199.38,947.80 L199.62,948.05 L199.87,948.29 L200.13,948.54 L200.39,948.79 L200.66,949.04 L200.94,949.28 L201.23,949.52 L201.52,949.76 L201.82,950.00 L202.12,950.23 L202.43,950.46 L202.75,950.68 L203.07,950.90 L203.40,951.11 L203.73,951.31 L204.07,951.51 L204.41,951.69 L204.77,951.87 L205.12,952.04 L205.48,952.21 L205.85,952.36 L206.22,952.50 L206.60,952.64 L206.98,952.76 L207.36,952.87 L207.75,952.97 L208.15,953.06 L208.55,953.14 L208.96,953.21 L209.36,953.26 L209.78,953.30 L210.20,953.33 L210.62,953.35 L211.05,953.35 L211.48,953.34 L211.92,953.32 L212.36,953.28 L212.80,953.23 L213.25,953.16 L213.71,953.08 L214.17,952.99 L214.63,952.88 L215.09,952.76 L215.56,952.63 L216.04,952.48 L216.51,952.31 L217.00,952.13 L217.48,951.94 L217.97,951.73 L218.47,951.51 L218.96,951.27 L219.46,951.02 L219.97,950.75 L220.48,950.47 L220.99,950.17 L221.51,949.86 L222.02,949.53 L222.55,949.19 L223.07,948.83 L223.61,948.46 L224.14,948.08 L224.68,947.68 L225.22,947.26 L225.76,946.84 L226.31,946.39 L226.86,945.94 L227.42,945.46 L227.97,944.98 L228.53,944.48 L229.10,943.97 L229.67,943.44 L230.24,942.90 L230.81,942.35 L231.39,941.78 L231.97,941.20 L232.56,940.61 L233.15,940.00 L233.74,939.39 L234.33,938.75 L234.93,938.11 L235.53,937.45 L236.13,936.79 L236.74,936.11 L237.35,935.41 L237.96,934.71 L238.58,933.99 L239.20,933.27 L239.82,932.53 L240.44,931.78 L241.07,931.02 L241.70,930.25 L242.34,929.47 L242.97,928.68 L243.61,927.87 L244.26,927.06 L244.90,926.24 L245.55,925.41 L246.20,924.57 L246.86,923.72 L247.51,922.86 L248.18,921.99 L248.84,921.11 L249.50,920.23 L250.17,919.33 L250.84,918.43 L251.52,917.52 L252.20,916.60 L252.88,915.67 L253.56,914.74 L254.25,913.80 L254.93,912.85 L255.62,911.89 L256.32,910.93 L257.01,909.96 L257.71,908.99 L258.42,908.01 L259.12,907.02 L259.83,906.02 L260.54,905.02 L261.25,904.02 L261.97,903.01 L262.68,901.99 L263.40,900.97 L264.13,899.95 L264.85,898.91 L265.58,897.88 L266.31,896.84 L267.04,895.79 L267.78,894.75 L268.52,893.69 L269.26,892.64 L270.00,891.58 L270.75,890.51 L271.50,889.45 L272.25,888.38 L273.00,887.30 L273.76,886.23 L274.52,885.15 L275.28,884.06 L276.04,882.98 L276.81,881.89 L277.58,880.80 L278.35,879.71 L279.12,878.62 L279.90,877.52 L280.68,876.43 L281.46,875.33 L282.24,874.23 L283.03,873.13 L283.82,872.02 L284.61,870.92 L285.40,869.82 L286.19,868.71 L286.99,867.60 L287.79,866.50 L288.59,865.39 L289.40,864.28 L290.21,863.17 L291.01,862.06 L291.83,860.95 L292.64,859.84 L293.46,858.73 L294.28,857.63 L295.10,856.52 L295.92,855.41 L296.74,854.30 L297.57,853.19 L298.40,852.09 L299.23,850.98 L300.07,849.88 L300.91,848.77 L301.75,847.67 L302.59,846.57 L303.43,845.47 L304.28,844.37 L305.12,843.27 L305.97,842.17 L306.83,841.07 L307.68,839.98 L308.54,838.89 L309.40,837.79 L310.26,836.71 L311.12,835.62 L311.99,834.53 L312.86,833.45 L313.73,832.37 L314.60,831.28 L315.47,830.21 L316.35,829.13 L317.23,828.06 L318.11,826.99 L318.99,825.92 L319.88,824.85 L320.76,823.78 L321.65,822.72 L322.54,821.66 L323.44,820.61 L324.33,819.55 L325.23,818.50 L326.13,817.45 L327.03,816.40 L327.94,815.36 L328.84,814.32 L329.75,813.28 L330.66,812.25 L331.57,811.21 L332.49,810.18 L333.40,809.16 L334.32,808.13 L335.24,807.11 L336.17,806.10 L337.09,805.08 L338.02,804.07 L338.95,803.06 L339.88,802.06 L340.81,801.06 L341.75,800.06 L342.68,799.06 L343.62,798.07 L344.56,797.08 L345.50,796.10 L346.45,795.11 L347.40,794.13 L348.35,793.16 L349.30,792.19 L350.25,791.22 L351.20,790.25 L352.16,789.29 L353.12,788.33 L354.08,787.38 L355.04,786.43 L356.01,785.48 L356.97,784.54 L357.94,783.59 L358.91,782.66 L359.89,781.72 L360.86,780.79 L361.84,779.87 L362.81,778.94 L363.80,778.02 L364.78,777.11 L365.76,776.20 L366.75,775.29 L367.73,774.38 L368.72,773.48 L369.72,772.58 L370.71,771.69 L371.71,770.80 L372.70,769.91 L373.70,769.03 L374.70,768.15 L375.71,767.27 L376.71,766.40 L377.72,765.53 L378.73,764.67 L379.74,763.81 L380.75,762.95 L381.76,762.09 L382.78,761.24 L383.80,760.40 L384.82,759.55 L385.84,758.71 L386.86,757.88 L387.89,757.04 L388.92,756.22 L389.94,755.39 L390.98,754.57 L392.01,753.75 L393.04,752.94 L394.08,752.13 L395.12,751.32 L396.16,750.52 L397.20,749.72 L398.24,748.92 L399.29,748.13 L400.34,747.34 L401.38,746.55 L402.43,745.77 L403.49,744.99 L404.54,744.22 L405.60,743.45 L406.66,742.68 L407.72,741.91 L408.78,741.15 L409.84,740.39 L410.91,739.64 L411.97,738.89 L413.04,738.14 L414.11,737.40 L415.18,736.66 L416.26,735.92 L417.33,735.19 L418.41,734.46 L419.49,733.73 L420.57,733.01 L421.65,732.29 L422.74,731.58 L423.82,730.86 L424.91,730.15 L426.00,729.45 L427.09,728.74 L428.19,728.05 L429.28,727.35 L430.38,726.66 L431.48,725.97 L432.58,725.28 L433.68,724.60 L434.78,723.92 L435.89,723.24 L436.99,722.57 L438.10,721.90 L439.21,721.23 L440.32,720.57 L441.44,719.91 L442.55,719.25 L443.67,718.60 L444.79,717.95 L445.91,717.30 L447.03,716.65 L448.15,716.01 L449.28,715.38 L450.41,714.74 L451.54,714.11 L452.67,713.48 L453.80,712.85 L454.93,712.23 L456.07,711.61 L457.20,710.99 L458.34,710.38 L459.48,709.77 L460.63,709.16 L461.77,708.56 L462.91,707.95 L464.06,707.36 L465.21,706.76 L466.36,706.17 L467.51,705.58 L468.67,704.99 L469.82,704.40 L470.98,703.82 L472.14,703.24 L473.30,702.67 L474.46,702.10 L475.62,701.52 L476.79,700.96 L477.95,700.39 L479.12,699.83 L480.29,699.27 L481.46,698.72 L482.64,698.16 L483.81,697.61 L484.99,697.06 L486.16,696.52 L487.34,695.97 L488.52,695.43 L489.71,694.90 L490.89,694.36 L492.08,693.83 L493.26,693.30 L494.45,692.77 L495.64,692.25 L496.84,691.73 L498.03,691.21 L499.23,690.69 L500.42,690.18 L501.62,689.67 L502.82,689.16 L504.02,688.65 L505.23,688.15 L506.43,687.64 L507.64,687.15 L508.85,686.65 L510.05,686.15 L511.27,685.66 L512.48,685.17 L513.69,684.69 L514.91,684.20 L516.13,683.72 L517.34,683.24 L518.56,682.76 L519.79,682.29 L521.01,681.81 L522.24,681.34 L523.46,680.88 L524.69,680.41 L525.92,679.95 L527.15,679.49 L528.38,679.03 L529.62,678.57 L530.85,678.12 L532.09,677.66 L533.33,677.21 L534.57,676.77 L535.81,676.32 L537.05,675.88 L538.30,675.44 L539.55,675.00 L540.79,674.56 L542.04,674.12 L543.29,673.69 L544.55,673.26 L545.80,672.83 L547.06,672.41 L548.31,671.98 L549.57,671.56 L550.83,671.14 L552.09,670.72 L553.36,670.31 L554.62,669.89 L555.89,669.48 L557.15,669.07 L558.42,668.66 L559.69,668.26 L560.96,667.85 L562.24,667.45 L563.51,667.05 L564.79,666.66 L566.07,666.27 L567.35,665.88 L568.63,665.49 L569.91,665.11 L571.19,664.73 L572.48,664.35 L573.76,663.98 L575.05,663.60 L576.34,663.24 L577.63,662.87 L578.93,662.50 L580.22,662.14 L581.51,661.78 L582.81,661.43 L584.11,661.07 L585.41,660.72 L586.71,660.37 L588.01,660.02 L589.32,659.67 L590.62,659.33 L591.93,658.99 L593.24,658.65 L594.55,658.31 L595.86,657.98 L597.17,657.64 L598.49,657.31 L599.80,656.98 L601.12,656.65 L602.44,656.32 L603.76,656.00 L605.08,655.68 L606.40,655.35 L607.73,655.03 L609.05,654.71 L610.38,654.40 L611.71,654.08 L613.04,653.76 L614.37,653.45 L615.70,653.14 L617.04,652.83 L618.37,652.51 L619.71,652.20 L621.05,651.90 L622.39,651.59 L623.73,651.28 L625.07,650.98 L626.41,650.67 L627.76,650.37 L629.11,650.06 L630.45,649.76 L631.80,649.45 L633.15,649.15 L634.51,648.85 L635.86,648.55 L637.22,648.25 L638.57,647.95 L639.93,647.65 L641.29,647.35 L642.65,647.05 L644.01,646.75 L645.38,646.45 L646.74,646.16 L648.11,645.87 L649.48,645.57 L650.84,645.28 L652.22,644.99 L653.59,644.71 L654.96,644.42 L656.33,644.13 L657.71,643.85 L659.09,643.57 L660.47,643.29 L661.85,643.01 L663.23,642.73 L664.61,642.45 L666.00,642.17 L667.38,641.90 L668.77,641.63 L670.16,641.35 L671.55,641.08 L672.94,640.81 L674.33,640.54 L675.72,640.28 L677.12,640.01 L678.51,639.75 L679.91,639.48 L681.31,639.22 L682.71,638.96 L684.11,638.70 L685.52,638.44 L686.92,638.18 L688.33,637.92 L689.73,637.67 L691.14,637.41 L692.55,637.16 L693.96,636.91 L695.38,636.66 L696.79,636.41 L698.20,636.16 L699.62,635.91 L701.04,635.66 L702.46,635.42 L703.88,635.17 L705.30,634.93 L706.72,634.69 L708.15,634.45 L709.57,634.21 L711.00,633.97 L712.43,633.73 L713.86,633.49 L715.29,633.26 L716.72,633.02 L718.16,632.79 L719.59,632.55 L721.03,632.32 L722.46,632.09 L723.90,631.86 L725.34,631.63 L726.79,631.40 L728.23,631.18 L729.67,630.95 L731.12,630.73 L732.57,630.50 L734.01,630.28 L735.46,630.06 L736.91,629.84 L738.37,629.62 L739.82,629.40 L741.27,629.18 L742.73,628.96 L744.19,628.75 L745.65,628.53 L747.10,628.32 L748.57,628.10 L750.03,627.89 L751.49,627.68 L752.96,627.47 L754.42,627.26 L755.89,627.05 L757.36,626.84 L758.83,626.63 L760.30,626.43 L761.77,626.22 L763.25,626.02 L764.72,625.81 L766.20,625.61 L767.68,625.41 L769.16,625.21 L770.64,625.01 L772.12,624.81 L773.60,624.61 L775.09,624.41 L776.57,624.22 L778.06,624.02 L779.55,623.82 L781.03,623.63 L782.53,623.44 L784.02,623.24 L785.51,623.05 L787.00,622.86 L788.50,622.67 L790.00,622.48 L791.50,622.29 L792.99,622.10 L794.49,621.92 L796.00,621.73 L797.50,621.54" fill="none" stroke="#b00000" stroke-width="2.8" stroke-dasharray="15.5 16"/>
<g transform="translate(297.20,136.60) scale(0.945,1)" fill="#0000ff" stroke="#0000ff" font-size="40"><text x="0.00" stroke-width="0">P</text></g><g transform="translate(322.40,149.70) scale(0.846,1)" fill="#0000ff" stroke="#0000ff" font-size="28.4"><text x="0.00" stroke-width="0.5" letter-spacing="2.3">01</text><rect x="18.13" y="-5.15" width="6.59" height="7.70" fill="#fff" stroke="none"/><rect x="28.62" y="-5.15" width="6.23" height="7.70" fill="#fff" stroke="none"/></g><g transform="translate(327.80,123.10) scale(0.922,1)" fill="#0000ff" stroke="#0000ff" font-size="28.4"><text x="0.00" stroke-width="0.5"><tspan font-weight="normal" font-size="27.55" stroke-width="0.82" dy="-0.34">(</tspan><tspan dx="0.28" dy="0.34">3</tspan><tspan font-weight="normal" font-size="27.55" stroke-width="0.82" dy="-0.34">)</tspan></text></g>
<g transform="translate(497.50,199.00) scale(0.945,1)" fill="#b00000" stroke="#b00000" font-size="40"><text x="0.00" stroke-width="0">P</text></g><g transform="translate(522.70,212.10) scale(0.846,1)" fill="#b00000" stroke="#b00000" font-size="28.4"><text x="0.00" stroke-width="0.5" letter-spacing="2.3">01</text><rect x="18.13" y="-5.15" width="6.59" height="7.70" fill="#fff" stroke="none"/><rect x="28.62" y="-5.15" width="6.23" height="7.70" fill="#fff" stroke="none"/></g><g transform="translate(551.10,199.00) scale(0.95,1)" fill="#b00000" stroke="#b00000" font-size="40"><text x="0.00" stroke-width="0"><tspan font-weight="normal" font-size="38.80" stroke-width="0.80" dy="-0.48">(</tspan><tspan dx="0.40" dy="0.48">1</tspan>810<tspan font-weight="normal" font-size="38.80" stroke-width="0.80" dy="-0.48">)</tspan></text><rect x="14.34" y="-6.08" width="8.32" height="8.38" fill="#fff" stroke="none"/><rect x="28.14" y="-6.08" width="7.81" height="8.38" fill="#fff" stroke="none"/><rect x="58.83" y="-6.08" width="8.32" height="8.38" fill="#fff" stroke="none"/><rect x="72.64" y="-6.08" width="7.81" height="8.38" fill="#fff" stroke="none"/></g>
<g transform="translate(267.40,386.30) scale(0.945,1)" fill="#000" stroke="#000" font-size="40"><text x="0.00" stroke-width="0">P</text></g><g transform="translate(292.60,399.40) scale(0.846,1)" fill="#000" stroke="#000" font-size="28.4"><text x="0.00" stroke-width="0.5" letter-spacing="2.3">01</text><rect x="18.13" y="-5.15" width="6.59" height="7.70" fill="#fff" stroke="none"/><rect x="28.62" y="-5.15" width="6.23" height="7.70" fill="#fff" stroke="none"/></g><g transform="translate(321.00,386.30) scale(0.95,1)" fill="#000" stroke="#000" font-size="40"><text x="0.00" stroke-width="0"><tspan font-weight="normal" font-size="38.80" stroke-width="0.80" dy="-0.48">(</tspan><tspan dx="0.40" dy="0.48">1</tspan>600<tspan font-weight="normal" font-size="38.80" stroke-width="0.80" dy="-0.48">)</tspan></text><rect x="14.34" y="-6.08" width="8.32" height="8.38" fill="#fff" stroke="none"/><rect x="28.14" y="-6.08" width="7.81" height="8.38" fill="#fff" stroke="none"/></g>
<g transform="translate(247.50,705.90) scale(0.945,1)" fill="#0000ff" stroke="#0000ff" font-size="40"><text x="0.00" stroke-width="0">P</text></g><g transform="translate(272.70,719.00) scale(0.846,1)" fill="#0000ff" stroke="#0000ff" font-size="28.4"><text x="0.00" stroke-width="0.5" letter-spacing="2.3">01</text><rect x="18.13" y="-5.15" width="6.59" height="7.70" fill="#fff" stroke="none"/><rect x="28.62" y="-5.15" width="6.23" height="7.70" fill="#fff" stroke="none"/></g><g transform="translate(278.10,692.40) scale(0.922,1)" fill="#0000ff" stroke="#0000ff" font-size="28.4"><text x="0.00" stroke-width="0.5"><tspan font-weight="normal" font-size="27.55" stroke-width="0.82" dy="-0.34">(</tspan><tspan dx="0.28" dy="0.34">3</tspan><tspan font-weight="normal" font-size="27.55" stroke-width="0.82" dy="-0.34">)</tspan></text></g>
<g transform="translate(478.00,738.30) scale(0.945,1)" fill="#000" stroke="#000" font-size="40"><text x="0.00" stroke-width="0">P</text></g><g transform="translate(503.20,751.40) scale(0.846,1)" fill="#000" stroke="#000" font-size="28.4"><text x="0.00" stroke-width="0.5" letter-spacing="2.3">01</text><rect x="18.13" y="-5.15" width="6.59" height="7.70" fill="#fff" stroke="none"/><rect x="28.62" y="-5.15" width="6.23" height="7.70" fill="#fff" stroke="none"/></g><g transform="translate(531.60,738.30) scale(0.95,1)" fill="#000" stroke="#000" font-size="40"><text x="0.00" stroke-width="0"><tspan font-weight="normal" font-size="38.80" stroke-width="0.80" dy="-0.48">(</tspan><tspan dx="0.40" dy="0.48">1</tspan>600<tspan font-weight="normal" font-size="38.80" stroke-width="0.80" dy="-0.48">)</tspan></text><rect x="14.34" y="-6.08" width="8.32" height="8.38" fill="#fff" stroke="none"/><rect x="28.14" y="-6.08" width="7.81" height="8.38" fill="#fff" stroke="none"/></g>
<g transform="translate(267.10,945.90) scale(0.945,1)" fill="#b00000" stroke="#b00000" font-size="40"><text x="0.00" stroke-width="0">P</text></g><g transform="translate(292.30,959.00) scale(0.846,1)" fill="#b00000" stroke="#b00000" font-size="28.4"><text x="0.00" stroke-width="0.5" letter-spacing="2.3">01</text><rect x="18.13" y="-5.15" width="6.59" height="7.70" fill="#fff" stroke="none"/><rect x="28.62" y="-5.15" width="6.23" height="7.70" fill="#fff" stroke="none"/></g><g transform="translate(320.70,945.90) scale(0.95,1)" fill="#b00000" stroke="#b00000" font-size="40"><text x="0.00" stroke-width="0"><tspan font-weight="normal" font-size="38.80" stroke-width="0.80" dy="-0.48">(</tspan><tspan dx="0.40" dy="0.48">1</tspan>810<tspan font-weight="normal" font-size="38.80" stroke-width="0.80" dy="-0.48">)</tspan></text><rect x="14.34" y="-6.08" width="8.32" height="8.38" fill="#fff" stroke="none"/><rect x="28.14" y="-6.08" width="7.81" height="8.38" fill="#fff" stroke="none"/><rect x="58.83" y="-6.08" width="8.32" height="8.38" fill="#fff" stroke="none"/><rect x="72.64" y="-6.08" width="7.81" height="8.38" fill="#fff" stroke="none"/></g>
<g transform="translate(67.70,417.60) rotate(-90) scale(0.97,1)" fill="#000" stroke="#000" font-size="51"><text x="0.00" stroke-width="0">A</text></g><g transform="translate(83.70,382.60) rotate(-90) scale(0.96,1)" fill="#000" stroke="#000" font-size="34.5"><text x="0.00" stroke-width="0.5">1<tspan font-weight="normal" stroke-width="0.41">/</tspan>2</text><rect x="0.42" y="-5.77" width="7.63" height="8.32" fill="#fff" stroke="none"/><rect x="12.79" y="-5.77" width="7.19" height="8.32" fill="#fff" stroke="none"/></g><g transform="translate(67.70,310.20) rotate(-90) scale(0.97,1)" fill="#000" stroke="#000" font-size="51"><text x="0.00" stroke-width="0"><tspan font-weight="normal" font-size="49.47" stroke-width="1.02" dy="-0.61">(</tspan><tspan dx="0.51" dy="0.61">1</tspan>0</text><rect x="18.70" y="-7.20" width="10.19" height="9.50" fill="#fff" stroke="none"/><rect x="35.88" y="-7.20" width="9.54" height="9.50" fill="#fff" stroke="none"/></g><g transform="translate(43.40,239.00) rotate(-90) scale(0.97,1)" fill="#000" stroke="#000" font-size="34.5"><text x="0.00" stroke-width="0.5">-3</text></g><g transform="translate(67.70,208.60) rotate(-90) scale(0.96,1)" fill="#000" stroke="#000" font-size="51"><text x="0.00" stroke-width="0">GeV</text></g><g transform="translate(42.10,111.40) rotate(-90) scale(0.99,1)" fill="#000" stroke="#000" font-size="34.5"><text x="0.00" stroke-width="0.5">-1<tspan font-weight="normal" stroke-width="0.41">/</tspan>2</text><rect x="11.91" y="-5.77" width="7.63" height="8.32" fill="#fff" stroke="none"/><rect x="24.27" y="-5.77" width="7.19" height="8.32" fill="#fff" stroke="none"/></g><g transform="translate(67.70,52.50) rotate(-90)" fill="#000" stroke="#000" font-size="51"><text x="0.00" stroke-width="0"><tspan font-weight="normal" font-size="49.47" stroke-width="1.02" dy="-0.61">)</tspan></text></g>
<g transform="translate(67.70,933.60) rotate(-90) scale(0.97,1)" fill="#000" stroke="#000" font-size="51"><text x="0.00" stroke-width="0">C</text></g><g transform="translate(83.70,898.60) rotate(-90) scale(0.96,1)" fill="#000" stroke="#000" font-size="34.5"><text x="0.00" stroke-width="0.5">1<tspan font-weight="normal" stroke-width="0.41">/</tspan>2</text><rect x="0.42" y="-5.77" width="7.63" height="8.32" fill="#fff" stroke="none"/><rect x="12.79" y="-5.77" width="7.19" height="8.32" fill="#fff" stroke="none"/></g><g transform="translate(67.70,826.20) rotate(-90) scale(0.97,1)" fill="#000" stroke="#000" font-size="51"><text x="0.00" stroke-width="0"><tspan font-weight="normal" font-size="49.47" stroke-width="1.02" dy="-0.61">(</tspan><tspan dx="0.51" dy="0.61">1</tspan>0</text><rect x="18.70" y="-7.20" width="10.19" height="9.50" fill="#fff" stroke="none"/><rect x="35.88" y="-7.20" width="9.54" height="9.50" fill="#fff" stroke="none"/></g><g transform="translate(43.40,755.00) rotate(-90) scale(0.97,1)" fill="#000" stroke="#000" font-size="34.5"><text x="0.00" stroke-width="0.5">-3</text></g><g transform="translate(67.70,724.60) rotate(-90) scale(0.96,1)" fill="#000" stroke="#000" font-size="51"><text x="0.00" stroke-width="0">GeV</text></g><g transform="translate(42.10,627.40) rotate(-90) scale(0.99,1)" fill="#000" stroke="#000" font-size="34.5"><text x="0.00" stroke-width="0.5">-1<tspan font-weight="normal" stroke-width="0.41">/</tspan>2</text><rect x="11.91" y="-5.77" width="7.63" height="8.32" fill="#fff" stroke="none"/><rect x="24.27" y="-5.77" width="7.19" height="8.32" fill="#fff" stroke="none"/></g><g transform="translate(67.70,568.50) rotate(-90)" fill="#000" stroke="#000" font-size="51"><text x="0.00" stroke-width="0"><tspan font-weight="normal" font-size="49.47" stroke-width="1.02" dy="-0.61">)</tspan></text></g>
<g transform="translate(470.00,1088.00) scale(0.96,1)" fill="#000" stroke="#000" font-size="51"><text x="0.00" stroke-width="0">Q</text></g><g transform="translate(510.00,1064.50) scale(0.85,1)" fill="#000" stroke="#000" font-size="34.5"><text x="0.00" stroke-width="0.5">2</text></g>
<g transform="translate(649.00,1088.00) scale(0.955,1)" fill="#000" stroke="#000" font-size="51"><text x="0.00" stroke-width="0"><tspan font-weight="normal" font-size="49.47" stroke-width="1.02" dy="-0.61">(</tspan><tspan dx="0.51" dy="0.61">G</tspan>eV</text></g><g transform="translate(764.00,1064.50) scale(0.85,1)" fill="#000" stroke="#000" font-size="34.5"><text x="0.00" stroke-width="0.5">2</text></g><g transform="translate(782.00,1088.00)" fill="#000" stroke="#000" font-size="51"><text x="0.00" stroke-width="0"><tspan font-weight="normal" font-size="49.47" stroke-width="1.02" dy="-0.61">)</tspan></text></g>
</svg>
</body></html>
